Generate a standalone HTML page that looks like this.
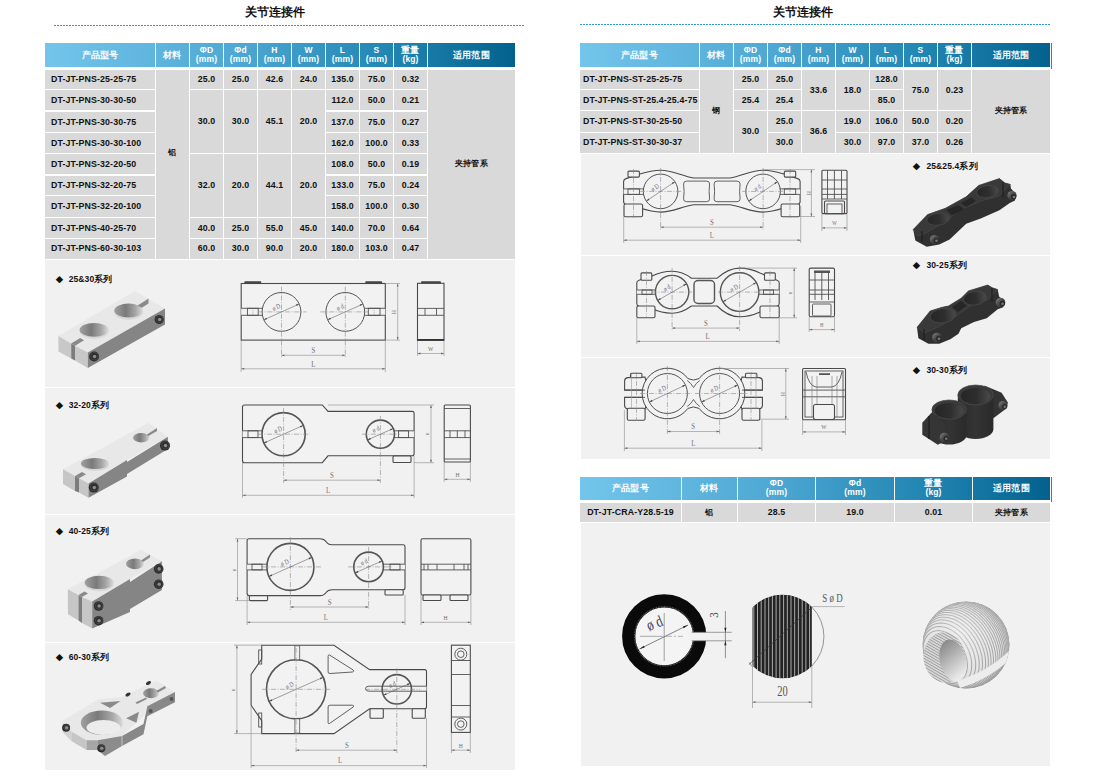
<!DOCTYPE html><html><head><meta charset="utf-8"><style>
html,body{margin:0;padding:0;background:#fff;width:1097px;height:782px;overflow:hidden;position:relative}
.t{position:absolute;font-family:"Liberation Sans",sans-serif;white-space:nowrap;letter-spacing:0.12px}
.hd{color:#fff;font-weight:bold;font-size:8.5px;text-align:center}
</style></head><body>
<div class="t" style="left:240px;top:4px;width:70px;height:16px;line-height:16px;font-size:12px;color:#111;font-weight:bold;text-align:center;">关节连接件</div>
<div class="t" style="left:768px;top:4px;width:70px;height:16px;line-height:16px;font-size:12px;color:#111;font-weight:bold;text-align:center;">关节连接件</div>
<svg style="position:absolute;left:0;top:0" width="1097" height="782"><line x1="54" y1="25.5" x2="525" y2="25.5" stroke="#2d9bd0" stroke-width="1" stroke-dasharray="2 1"/><line x1="580" y1="24.5" x2="1051" y2="24.5" stroke="#2d9bd0" stroke-width="1" stroke-dasharray="2 1"/></svg>
<div style="position:absolute;left:45px;top:43px;width:470px;height:24px;background:linear-gradient(90deg,#73c5eb 0%,#4fa9d4 40%,#1f83b0 75%,#04618d 100%)"></div>
<div style="position:absolute;left:155px;top:43px;width:1px;height:24px;background:#fff;"></div>
<div style="position:absolute;left:189px;top:43px;width:1px;height:24px;background:#fff;"></div>
<div style="position:absolute;left:223px;top:43px;width:1px;height:24px;background:#fff;"></div>
<div style="position:absolute;left:257px;top:43px;width:1px;height:24px;background:#fff;"></div>
<div style="position:absolute;left:291px;top:43px;width:1px;height:24px;background:#fff;"></div>
<div style="position:absolute;left:325px;top:43px;width:1px;height:24px;background:#fff;"></div>
<div style="position:absolute;left:359px;top:43px;width:1px;height:24px;background:#fff;"></div>
<div style="position:absolute;left:393px;top:43px;width:1px;height:24px;background:#fff;"></div>
<div style="position:absolute;left:427px;top:43px;width:1px;height:24px;background:#fff;"></div>
<div class="t" style="left:45px;top:43px;width:110px;height:24px;line-height:24px;font-size:8.5px;color:#fff;font-weight:bold;text-align:center;">产品型号</div>
<div class="t" style="left:156px;top:43px;width:33px;height:24px;line-height:24px;font-size:8.5px;color:#fff;font-weight:bold;text-align:center;">材料</div>
<div class="t hd" style="left:190px;top:43px;width:33px;height:24px;"><div style="position:absolute;left:0;right:0;top:3px;line-height:9px">ΦD</div><div style="position:absolute;left:0;right:0;top:12px;line-height:9px">(mm)</div></div>
<div class="t hd" style="left:224px;top:43px;width:33px;height:24px;"><div style="position:absolute;left:0;right:0;top:3px;line-height:9px">Φd</div><div style="position:absolute;left:0;right:0;top:12px;line-height:9px">(mm)</div></div>
<div class="t hd" style="left:258px;top:43px;width:33px;height:24px;"><div style="position:absolute;left:0;right:0;top:3px;line-height:9px">H</div><div style="position:absolute;left:0;right:0;top:12px;line-height:9px">(mm)</div></div>
<div class="t hd" style="left:292px;top:43px;width:33px;height:24px;"><div style="position:absolute;left:0;right:0;top:3px;line-height:9px">W</div><div style="position:absolute;left:0;right:0;top:12px;line-height:9px">(mm)</div></div>
<div class="t hd" style="left:326px;top:43px;width:33px;height:24px;"><div style="position:absolute;left:0;right:0;top:3px;line-height:9px">L</div><div style="position:absolute;left:0;right:0;top:12px;line-height:9px">(mm)</div></div>
<div class="t hd" style="left:360px;top:43px;width:33px;height:24px;"><div style="position:absolute;left:0;right:0;top:3px;line-height:9px">S</div><div style="position:absolute;left:0;right:0;top:12px;line-height:9px">(mm)</div></div>
<div class="t hd" style="left:394px;top:43px;width:33px;height:24px;"><div style="position:absolute;left:0;right:0;top:3px;line-height:9px">重量</div><div style="position:absolute;left:0;right:0;top:12px;line-height:9px">(kg)</div></div>
<div class="t" style="left:428px;top:43px;width:87px;height:24px;line-height:24px;font-size:8.5px;color:#fff;font-weight:bold;text-align:center;">适用范围</div>
<div style="position:absolute;left:45px;top:70px;width:110px;height:19.299999999999997px;background:#d9d9d9;"></div>
<div class="t" style="left:51px;top:70px;width:110px;height:19.299999999999997px;line-height:19.299999999999997px;font-size:8.8px;color:#111;font-weight:bold;text-align:left;">DT-JT-PNS-25-25-75</div>
<div style="position:absolute;left:45px;top:90.3px;width:110px;height:20.200000000000003px;background:#d9d9d9;"></div>
<div class="t" style="left:51px;top:90.3px;width:110px;height:20.200000000000003px;line-height:20.200000000000003px;font-size:8.8px;color:#111;font-weight:bold;text-align:left;">DT-JT-PNS-30-30-50</div>
<div style="position:absolute;left:45px;top:111.5px;width:110px;height:20.5px;background:#d9d9d9;"></div>
<div class="t" style="left:51px;top:111.5px;width:110px;height:20.5px;line-height:20.5px;font-size:8.8px;color:#111;font-weight:bold;text-align:left;">DT-JT-PNS-30-30-75</div>
<div style="position:absolute;left:45px;top:133px;width:110px;height:20.19999999999999px;background:#d9d9d9;"></div>
<div class="t" style="left:51px;top:133px;width:110px;height:20.19999999999999px;line-height:20.19999999999999px;font-size:8.8px;color:#111;font-weight:bold;text-align:left;">DT-JT-PNS-30-30-100</div>
<div style="position:absolute;left:45px;top:154.2px;width:110px;height:20.30000000000001px;background:#d9d9d9;"></div>
<div class="t" style="left:51px;top:154.2px;width:110px;height:20.30000000000001px;line-height:20.30000000000001px;font-size:8.8px;color:#111;font-weight:bold;text-align:left;">DT-JT-PNS-32-20-50</div>
<div style="position:absolute;left:45px;top:175.5px;width:110px;height:19.900000000000006px;background:#d9d9d9;"></div>
<div class="t" style="left:51px;top:175.5px;width:110px;height:19.900000000000006px;line-height:19.900000000000006px;font-size:8.8px;color:#111;font-weight:bold;text-align:left;">DT-JT-PNS-32-20-75</div>
<div style="position:absolute;left:45px;top:196.4px;width:110px;height:20.799999999999983px;background:#d9d9d9;"></div>
<div class="t" style="left:51px;top:196.4px;width:110px;height:20.799999999999983px;line-height:20.799999999999983px;font-size:8.8px;color:#111;font-weight:bold;text-align:left;">DT-JT-PNS-32-20-100</div>
<div style="position:absolute;left:45px;top:218.2px;width:110px;height:20.200000000000017px;background:#d9d9d9;"></div>
<div class="t" style="left:51px;top:218.2px;width:110px;height:20.200000000000017px;line-height:20.200000000000017px;font-size:8.8px;color:#111;font-weight:bold;text-align:left;">DT-JT-PNS-40-25-70</div>
<div style="position:absolute;left:45px;top:239.4px;width:110px;height:19.200000000000017px;background:#d9d9d9;"></div>
<div class="t" style="left:51px;top:239.4px;width:110px;height:19.200000000000017px;line-height:19.200000000000017px;font-size:8.8px;color:#111;font-weight:bold;text-align:left;">DT-JT-PNS-60-30-103</div>
<div style="position:absolute;left:156px;top:70px;width:33px;height:188.60000000000002px;background:#d9d9d9;"></div>
<div class="t" style="left:156px;top:59px;width:33px;height:188.60000000000002px;line-height:188.60000000000002px;font-size:8px;color:#111;font-weight:bold;text-align:center;">铝</div>
<div style="position:absolute;left:190px;top:70px;width:33px;height:19.299999999999997px;background:#d9d9d9;"></div>
<div class="t" style="left:190px;top:70px;width:33px;height:19.299999999999997px;line-height:19.299999999999997px;font-size:8.8px;color:#111;font-weight:bold;text-align:center;">25.0</div>
<div style="position:absolute;left:190px;top:90.3px;width:33px;height:62.89999999999999px;background:#d9d9d9;"></div>
<div class="t" style="left:190px;top:90.3px;width:33px;height:62.89999999999999px;line-height:62.89999999999999px;font-size:8.8px;color:#111;font-weight:bold;text-align:center;">30.0</div>
<div style="position:absolute;left:190px;top:154.2px;width:33px;height:63.0px;background:#d9d9d9;"></div>
<div class="t" style="left:190px;top:154.2px;width:33px;height:63.0px;line-height:63.0px;font-size:8.8px;color:#111;font-weight:bold;text-align:center;">32.0</div>
<div style="position:absolute;left:190px;top:218.2px;width:33px;height:20.200000000000017px;background:#d9d9d9;"></div>
<div class="t" style="left:190px;top:218.2px;width:33px;height:20.200000000000017px;line-height:20.200000000000017px;font-size:8.8px;color:#111;font-weight:bold;text-align:center;">40.0</div>
<div style="position:absolute;left:190px;top:239.4px;width:33px;height:19.200000000000017px;background:#d9d9d9;"></div>
<div class="t" style="left:190px;top:239.4px;width:33px;height:19.200000000000017px;line-height:19.200000000000017px;font-size:8.8px;color:#111;font-weight:bold;text-align:center;">60.0</div>
<div style="position:absolute;left:224px;top:70px;width:33px;height:19.299999999999997px;background:#d9d9d9;"></div>
<div class="t" style="left:224px;top:70px;width:33px;height:19.299999999999997px;line-height:19.299999999999997px;font-size:8.8px;color:#111;font-weight:bold;text-align:center;">25.0</div>
<div style="position:absolute;left:224px;top:90.3px;width:33px;height:62.89999999999999px;background:#d9d9d9;"></div>
<div class="t" style="left:224px;top:90.3px;width:33px;height:62.89999999999999px;line-height:62.89999999999999px;font-size:8.8px;color:#111;font-weight:bold;text-align:center;">30.0</div>
<div style="position:absolute;left:224px;top:154.2px;width:33px;height:63.0px;background:#d9d9d9;"></div>
<div class="t" style="left:224px;top:154.2px;width:33px;height:63.0px;line-height:63.0px;font-size:8.8px;color:#111;font-weight:bold;text-align:center;">20.0</div>
<div style="position:absolute;left:224px;top:218.2px;width:33px;height:20.200000000000017px;background:#d9d9d9;"></div>
<div class="t" style="left:224px;top:218.2px;width:33px;height:20.200000000000017px;line-height:20.200000000000017px;font-size:8.8px;color:#111;font-weight:bold;text-align:center;">25.0</div>
<div style="position:absolute;left:224px;top:239.4px;width:33px;height:19.200000000000017px;background:#d9d9d9;"></div>
<div class="t" style="left:224px;top:239.4px;width:33px;height:19.200000000000017px;line-height:19.200000000000017px;font-size:8.8px;color:#111;font-weight:bold;text-align:center;">30.0</div>
<div style="position:absolute;left:258px;top:70px;width:33px;height:19.299999999999997px;background:#d9d9d9;"></div>
<div class="t" style="left:258px;top:70px;width:33px;height:19.299999999999997px;line-height:19.299999999999997px;font-size:8.8px;color:#111;font-weight:bold;text-align:center;">42.6</div>
<div style="position:absolute;left:258px;top:90.3px;width:33px;height:62.89999999999999px;background:#d9d9d9;"></div>
<div class="t" style="left:258px;top:90.3px;width:33px;height:62.89999999999999px;line-height:62.89999999999999px;font-size:8.8px;color:#111;font-weight:bold;text-align:center;">45.1</div>
<div style="position:absolute;left:258px;top:154.2px;width:33px;height:63.0px;background:#d9d9d9;"></div>
<div class="t" style="left:258px;top:154.2px;width:33px;height:63.0px;line-height:63.0px;font-size:8.8px;color:#111;font-weight:bold;text-align:center;">44.1</div>
<div style="position:absolute;left:258px;top:218.2px;width:33px;height:20.200000000000017px;background:#d9d9d9;"></div>
<div class="t" style="left:258px;top:218.2px;width:33px;height:20.200000000000017px;line-height:20.200000000000017px;font-size:8.8px;color:#111;font-weight:bold;text-align:center;">55.0</div>
<div style="position:absolute;left:258px;top:239.4px;width:33px;height:19.200000000000017px;background:#d9d9d9;"></div>
<div class="t" style="left:258px;top:239.4px;width:33px;height:19.200000000000017px;line-height:19.200000000000017px;font-size:8.8px;color:#111;font-weight:bold;text-align:center;">90.0</div>
<div style="position:absolute;left:292px;top:70px;width:33px;height:19.299999999999997px;background:#d9d9d9;"></div>
<div class="t" style="left:292px;top:70px;width:33px;height:19.299999999999997px;line-height:19.299999999999997px;font-size:8.8px;color:#111;font-weight:bold;text-align:center;">24.0</div>
<div style="position:absolute;left:292px;top:90.3px;width:33px;height:62.89999999999999px;background:#d9d9d9;"></div>
<div class="t" style="left:292px;top:90.3px;width:33px;height:62.89999999999999px;line-height:62.89999999999999px;font-size:8.8px;color:#111;font-weight:bold;text-align:center;">20.0</div>
<div style="position:absolute;left:292px;top:154.2px;width:33px;height:63.0px;background:#d9d9d9;"></div>
<div class="t" style="left:292px;top:154.2px;width:33px;height:63.0px;line-height:63.0px;font-size:8.8px;color:#111;font-weight:bold;text-align:center;">20.0</div>
<div style="position:absolute;left:292px;top:218.2px;width:33px;height:20.200000000000017px;background:#d9d9d9;"></div>
<div class="t" style="left:292px;top:218.2px;width:33px;height:20.200000000000017px;line-height:20.200000000000017px;font-size:8.8px;color:#111;font-weight:bold;text-align:center;">45.0</div>
<div style="position:absolute;left:292px;top:239.4px;width:33px;height:19.200000000000017px;background:#d9d9d9;"></div>
<div class="t" style="left:292px;top:239.4px;width:33px;height:19.200000000000017px;line-height:19.200000000000017px;font-size:8.8px;color:#111;font-weight:bold;text-align:center;">20.0</div>
<div style="position:absolute;left:326px;top:70px;width:33px;height:19.299999999999997px;background:#d9d9d9;"></div>
<div class="t" style="left:326px;top:70px;width:33px;height:19.299999999999997px;line-height:19.299999999999997px;font-size:8.8px;color:#111;font-weight:bold;text-align:center;">135.0</div>
<div style="position:absolute;left:326px;top:90.3px;width:33px;height:20.200000000000003px;background:#d9d9d9;"></div>
<div class="t" style="left:326px;top:90.3px;width:33px;height:20.200000000000003px;line-height:20.200000000000003px;font-size:8.8px;color:#111;font-weight:bold;text-align:center;">112.0</div>
<div style="position:absolute;left:326px;top:111.5px;width:33px;height:20.5px;background:#d9d9d9;"></div>
<div class="t" style="left:326px;top:111.5px;width:33px;height:20.5px;line-height:20.5px;font-size:8.8px;color:#111;font-weight:bold;text-align:center;">137.0</div>
<div style="position:absolute;left:326px;top:133px;width:33px;height:20.19999999999999px;background:#d9d9d9;"></div>
<div class="t" style="left:326px;top:133px;width:33px;height:20.19999999999999px;line-height:20.19999999999999px;font-size:8.8px;color:#111;font-weight:bold;text-align:center;">162.0</div>
<div style="position:absolute;left:326px;top:154.2px;width:33px;height:20.30000000000001px;background:#d9d9d9;"></div>
<div class="t" style="left:326px;top:154.2px;width:33px;height:20.30000000000001px;line-height:20.30000000000001px;font-size:8.8px;color:#111;font-weight:bold;text-align:center;">108.0</div>
<div style="position:absolute;left:326px;top:175.5px;width:33px;height:19.900000000000006px;background:#d9d9d9;"></div>
<div class="t" style="left:326px;top:175.5px;width:33px;height:19.900000000000006px;line-height:19.900000000000006px;font-size:8.8px;color:#111;font-weight:bold;text-align:center;">133.0</div>
<div style="position:absolute;left:326px;top:196.4px;width:33px;height:20.799999999999983px;background:#d9d9d9;"></div>
<div class="t" style="left:326px;top:196.4px;width:33px;height:20.799999999999983px;line-height:20.799999999999983px;font-size:8.8px;color:#111;font-weight:bold;text-align:center;">158.0</div>
<div style="position:absolute;left:326px;top:218.2px;width:33px;height:20.200000000000017px;background:#d9d9d9;"></div>
<div class="t" style="left:326px;top:218.2px;width:33px;height:20.200000000000017px;line-height:20.200000000000017px;font-size:8.8px;color:#111;font-weight:bold;text-align:center;">140.0</div>
<div style="position:absolute;left:326px;top:239.4px;width:33px;height:19.200000000000017px;background:#d9d9d9;"></div>
<div class="t" style="left:326px;top:239.4px;width:33px;height:19.200000000000017px;line-height:19.200000000000017px;font-size:8.8px;color:#111;font-weight:bold;text-align:center;">180.0</div>
<div style="position:absolute;left:360px;top:70px;width:33px;height:19.299999999999997px;background:#d9d9d9;"></div>
<div class="t" style="left:360px;top:70px;width:33px;height:19.299999999999997px;line-height:19.299999999999997px;font-size:8.8px;color:#111;font-weight:bold;text-align:center;">75.0</div>
<div style="position:absolute;left:360px;top:90.3px;width:33px;height:20.200000000000003px;background:#d9d9d9;"></div>
<div class="t" style="left:360px;top:90.3px;width:33px;height:20.200000000000003px;line-height:20.200000000000003px;font-size:8.8px;color:#111;font-weight:bold;text-align:center;">50.0</div>
<div style="position:absolute;left:360px;top:111.5px;width:33px;height:20.5px;background:#d9d9d9;"></div>
<div class="t" style="left:360px;top:111.5px;width:33px;height:20.5px;line-height:20.5px;font-size:8.8px;color:#111;font-weight:bold;text-align:center;">75.0</div>
<div style="position:absolute;left:360px;top:133px;width:33px;height:20.19999999999999px;background:#d9d9d9;"></div>
<div class="t" style="left:360px;top:133px;width:33px;height:20.19999999999999px;line-height:20.19999999999999px;font-size:8.8px;color:#111;font-weight:bold;text-align:center;">100.0</div>
<div style="position:absolute;left:360px;top:154.2px;width:33px;height:20.30000000000001px;background:#d9d9d9;"></div>
<div class="t" style="left:360px;top:154.2px;width:33px;height:20.30000000000001px;line-height:20.30000000000001px;font-size:8.8px;color:#111;font-weight:bold;text-align:center;">50.0</div>
<div style="position:absolute;left:360px;top:175.5px;width:33px;height:19.900000000000006px;background:#d9d9d9;"></div>
<div class="t" style="left:360px;top:175.5px;width:33px;height:19.900000000000006px;line-height:19.900000000000006px;font-size:8.8px;color:#111;font-weight:bold;text-align:center;">75.0</div>
<div style="position:absolute;left:360px;top:196.4px;width:33px;height:20.799999999999983px;background:#d9d9d9;"></div>
<div class="t" style="left:360px;top:196.4px;width:33px;height:20.799999999999983px;line-height:20.799999999999983px;font-size:8.8px;color:#111;font-weight:bold;text-align:center;">100.0</div>
<div style="position:absolute;left:360px;top:218.2px;width:33px;height:20.200000000000017px;background:#d9d9d9;"></div>
<div class="t" style="left:360px;top:218.2px;width:33px;height:20.200000000000017px;line-height:20.200000000000017px;font-size:8.8px;color:#111;font-weight:bold;text-align:center;">70.0</div>
<div style="position:absolute;left:360px;top:239.4px;width:33px;height:19.200000000000017px;background:#d9d9d9;"></div>
<div class="t" style="left:360px;top:239.4px;width:33px;height:19.200000000000017px;line-height:19.200000000000017px;font-size:8.8px;color:#111;font-weight:bold;text-align:center;">103.0</div>
<div style="position:absolute;left:394px;top:70px;width:33px;height:19.299999999999997px;background:#d9d9d9;"></div>
<div class="t" style="left:394px;top:70px;width:33px;height:19.299999999999997px;line-height:19.299999999999997px;font-size:8.8px;color:#111;font-weight:bold;text-align:center;">0.32</div>
<div style="position:absolute;left:394px;top:90.3px;width:33px;height:20.200000000000003px;background:#d9d9d9;"></div>
<div class="t" style="left:394px;top:90.3px;width:33px;height:20.200000000000003px;line-height:20.200000000000003px;font-size:8.8px;color:#111;font-weight:bold;text-align:center;">0.21</div>
<div style="position:absolute;left:394px;top:111.5px;width:33px;height:20.5px;background:#d9d9d9;"></div>
<div class="t" style="left:394px;top:111.5px;width:33px;height:20.5px;line-height:20.5px;font-size:8.8px;color:#111;font-weight:bold;text-align:center;">0.27</div>
<div style="position:absolute;left:394px;top:133px;width:33px;height:20.19999999999999px;background:#d9d9d9;"></div>
<div class="t" style="left:394px;top:133px;width:33px;height:20.19999999999999px;line-height:20.19999999999999px;font-size:8.8px;color:#111;font-weight:bold;text-align:center;">0.33</div>
<div style="position:absolute;left:394px;top:154.2px;width:33px;height:20.30000000000001px;background:#d9d9d9;"></div>
<div class="t" style="left:394px;top:154.2px;width:33px;height:20.30000000000001px;line-height:20.30000000000001px;font-size:8.8px;color:#111;font-weight:bold;text-align:center;">0.19</div>
<div style="position:absolute;left:394px;top:175.5px;width:33px;height:19.900000000000006px;background:#d9d9d9;"></div>
<div class="t" style="left:394px;top:175.5px;width:33px;height:19.900000000000006px;line-height:19.900000000000006px;font-size:8.8px;color:#111;font-weight:bold;text-align:center;">0.24</div>
<div style="position:absolute;left:394px;top:196.4px;width:33px;height:20.799999999999983px;background:#d9d9d9;"></div>
<div class="t" style="left:394px;top:196.4px;width:33px;height:20.799999999999983px;line-height:20.799999999999983px;font-size:8.8px;color:#111;font-weight:bold;text-align:center;">0.30</div>
<div style="position:absolute;left:394px;top:218.2px;width:33px;height:20.200000000000017px;background:#d9d9d9;"></div>
<div class="t" style="left:394px;top:218.2px;width:33px;height:20.200000000000017px;line-height:20.200000000000017px;font-size:8.8px;color:#111;font-weight:bold;text-align:center;">0.64</div>
<div style="position:absolute;left:394px;top:239.4px;width:33px;height:19.200000000000017px;background:#d9d9d9;"></div>
<div class="t" style="left:394px;top:239.4px;width:33px;height:19.200000000000017px;line-height:19.200000000000017px;font-size:8.8px;color:#111;font-weight:bold;text-align:center;">0.47</div>
<div style="position:absolute;left:428px;top:70px;width:87px;height:188.60000000000002px;background:#d9d9d9;"></div>
<div class="t" style="left:428px;top:70px;width:87px;height:188.60000000000002px;line-height:188.60000000000002px;font-size:8px;color:#111;font-weight:bold;text-align:center;">夹持管系</div>
<div style="position:absolute;left:580px;top:43px;width:470px;height:24px;background:linear-gradient(90deg,#73c5eb 0%,#4fa9d4 40%,#1f83b0 75%,#04618d 100%)"></div>
<div style="position:absolute;left:699px;top:43px;width:1px;height:24px;background:#fff;"></div>
<div style="position:absolute;left:733px;top:43px;width:1px;height:24px;background:#fff;"></div>
<div style="position:absolute;left:767px;top:43px;width:1px;height:24px;background:#fff;"></div>
<div style="position:absolute;left:801px;top:43px;width:1px;height:24px;background:#fff;"></div>
<div style="position:absolute;left:835px;top:43px;width:1px;height:24px;background:#fff;"></div>
<div style="position:absolute;left:869px;top:43px;width:1px;height:24px;background:#fff;"></div>
<div style="position:absolute;left:903px;top:43px;width:1px;height:24px;background:#fff;"></div>
<div style="position:absolute;left:937px;top:43px;width:1px;height:24px;background:#fff;"></div>
<div style="position:absolute;left:971px;top:43px;width:1px;height:24px;background:#fff;"></div>
<div class="t" style="left:580px;top:43px;width:119px;height:24px;line-height:24px;font-size:8.5px;color:#fff;font-weight:bold;text-align:center;">产品型号</div>
<div class="t" style="left:700px;top:43px;width:33px;height:24px;line-height:24px;font-size:8.5px;color:#fff;font-weight:bold;text-align:center;">材料</div>
<div class="t hd" style="left:734px;top:43px;width:33px;height:24px;"><div style="position:absolute;left:0;right:0;top:3px;line-height:9px">ΦD</div><div style="position:absolute;left:0;right:0;top:12px;line-height:9px">(mm)</div></div>
<div class="t hd" style="left:768px;top:43px;width:33px;height:24px;"><div style="position:absolute;left:0;right:0;top:3px;line-height:9px">Φd</div><div style="position:absolute;left:0;right:0;top:12px;line-height:9px">(mm)</div></div>
<div class="t hd" style="left:802px;top:43px;width:33px;height:24px;"><div style="position:absolute;left:0;right:0;top:3px;line-height:9px">H</div><div style="position:absolute;left:0;right:0;top:12px;line-height:9px">(mm)</div></div>
<div class="t hd" style="left:836px;top:43px;width:33px;height:24px;"><div style="position:absolute;left:0;right:0;top:3px;line-height:9px">W</div><div style="position:absolute;left:0;right:0;top:12px;line-height:9px">(mm)</div></div>
<div class="t hd" style="left:870px;top:43px;width:33px;height:24px;"><div style="position:absolute;left:0;right:0;top:3px;line-height:9px">L</div><div style="position:absolute;left:0;right:0;top:12px;line-height:9px">(mm)</div></div>
<div class="t hd" style="left:904px;top:43px;width:33px;height:24px;"><div style="position:absolute;left:0;right:0;top:3px;line-height:9px">S</div><div style="position:absolute;left:0;right:0;top:12px;line-height:9px">(mm)</div></div>
<div class="t hd" style="left:938px;top:43px;width:33px;height:24px;"><div style="position:absolute;left:0;right:0;top:3px;line-height:9px">重量</div><div style="position:absolute;left:0;right:0;top:12px;line-height:9px">(kg)</div></div>
<div class="t" style="left:972px;top:43px;width:78px;height:24px;line-height:24px;font-size:8.5px;color:#fff;font-weight:bold;text-align:center;">适用范围</div>
<div style="position:absolute;left:1050.5px;top:43px;width:1.2px;height:26px;background:#2a86b5;"></div>
<div style="position:absolute;left:580px;top:70px;width:119px;height:19.099999999999994px;background:#d9d9d9;"></div>
<div class="t" style="left:583px;top:70px;width:120px;height:19.099999999999994px;line-height:19.099999999999994px;font-size:8.8px;color:#111;font-weight:bold;text-align:left;">DT-JT-PNS-ST-25-25-75</div>
<div style="position:absolute;left:580px;top:90.1px;width:119px;height:20.10000000000001px;background:#d9d9d9;"></div>
<div class="t" style="left:583px;top:90.1px;width:120px;height:20.10000000000001px;line-height:20.10000000000001px;font-size:8.8px;color:#111;font-weight:bold;text-align:left;">DT-JT-PNS-ST-25.4-25.4-75</div>
<div style="position:absolute;left:580px;top:111.2px;width:119px;height:20.799999999999997px;background:#d9d9d9;"></div>
<div class="t" style="left:583px;top:111.2px;width:120px;height:20.799999999999997px;line-height:20.799999999999997px;font-size:8.8px;color:#111;font-weight:bold;text-align:left;">DT-JT-PNS-ST-30-25-50</div>
<div style="position:absolute;left:580px;top:133px;width:119px;height:19.69999999999999px;background:#d9d9d9;"></div>
<div class="t" style="left:583px;top:133px;width:120px;height:19.69999999999999px;line-height:19.69999999999999px;font-size:8.8px;color:#111;font-weight:bold;text-align:left;">DT-JT-PNS-ST-30-30-37</div>
<div style="position:absolute;left:700px;top:70px;width:33px;height:82.69999999999999px;background:#d9d9d9;"></div>
<div class="t" style="left:700px;top:70px;width:33px;height:82.69999999999999px;line-height:82.69999999999999px;font-size:8px;color:#111;font-weight:bold;text-align:center;">钢</div>
<div style="position:absolute;left:734px;top:70px;width:33px;height:19.099999999999994px;background:#d9d9d9;"></div>
<div class="t" style="left:734px;top:70px;width:33px;height:19.099999999999994px;line-height:19.099999999999994px;font-size:8.8px;color:#111;font-weight:bold;text-align:center;">25.0</div>
<div style="position:absolute;left:734px;top:90.1px;width:33px;height:20.10000000000001px;background:#d9d9d9;"></div>
<div class="t" style="left:734px;top:90.1px;width:33px;height:20.10000000000001px;line-height:20.10000000000001px;font-size:8.8px;color:#111;font-weight:bold;text-align:center;">25.4</div>
<div style="position:absolute;left:734px;top:111.2px;width:33px;height:41.499999999999986px;background:#d9d9d9;"></div>
<div class="t" style="left:734px;top:111.2px;width:33px;height:41.499999999999986px;line-height:41.499999999999986px;font-size:8.8px;color:#111;font-weight:bold;text-align:center;">30.0</div>
<div style="position:absolute;left:768px;top:70px;width:33px;height:19.099999999999994px;background:#d9d9d9;"></div>
<div class="t" style="left:768px;top:70px;width:33px;height:19.099999999999994px;line-height:19.099999999999994px;font-size:8.8px;color:#111;font-weight:bold;text-align:center;">25.0</div>
<div style="position:absolute;left:768px;top:90.1px;width:33px;height:20.10000000000001px;background:#d9d9d9;"></div>
<div class="t" style="left:768px;top:90.1px;width:33px;height:20.10000000000001px;line-height:20.10000000000001px;font-size:8.8px;color:#111;font-weight:bold;text-align:center;">25.4</div>
<div style="position:absolute;left:768px;top:111.2px;width:33px;height:20.799999999999997px;background:#d9d9d9;"></div>
<div class="t" style="left:768px;top:111.2px;width:33px;height:20.799999999999997px;line-height:20.799999999999997px;font-size:8.8px;color:#111;font-weight:bold;text-align:center;">25.0</div>
<div style="position:absolute;left:768px;top:133px;width:33px;height:19.69999999999999px;background:#d9d9d9;"></div>
<div class="t" style="left:768px;top:133px;width:33px;height:19.69999999999999px;line-height:19.69999999999999px;font-size:8.8px;color:#111;font-weight:bold;text-align:center;">30.0</div>
<div style="position:absolute;left:802px;top:70px;width:33px;height:40.2px;background:#d9d9d9;"></div>
<div class="t" style="left:802px;top:70px;width:33px;height:40.2px;line-height:40.2px;font-size:8.8px;color:#111;font-weight:bold;text-align:center;">33.6</div>
<div style="position:absolute;left:802px;top:111.2px;width:33px;height:41.499999999999986px;background:#d9d9d9;"></div>
<div class="t" style="left:802px;top:111.2px;width:33px;height:41.499999999999986px;line-height:41.499999999999986px;font-size:8.8px;color:#111;font-weight:bold;text-align:center;">36.6</div>
<div style="position:absolute;left:836px;top:70px;width:33px;height:40.2px;background:#d9d9d9;"></div>
<div class="t" style="left:836px;top:70px;width:33px;height:40.2px;line-height:40.2px;font-size:8.8px;color:#111;font-weight:bold;text-align:center;">18.0</div>
<div style="position:absolute;left:836px;top:111.2px;width:33px;height:20.799999999999997px;background:#d9d9d9;"></div>
<div class="t" style="left:836px;top:111.2px;width:33px;height:20.799999999999997px;line-height:20.799999999999997px;font-size:8.8px;color:#111;font-weight:bold;text-align:center;">19.0</div>
<div style="position:absolute;left:836px;top:133px;width:33px;height:19.69999999999999px;background:#d9d9d9;"></div>
<div class="t" style="left:836px;top:133px;width:33px;height:19.69999999999999px;line-height:19.69999999999999px;font-size:8.8px;color:#111;font-weight:bold;text-align:center;">30.0</div>
<div style="position:absolute;left:870px;top:70px;width:33px;height:19.099999999999994px;background:#d9d9d9;"></div>
<div class="t" style="left:870px;top:70px;width:33px;height:19.099999999999994px;line-height:19.099999999999994px;font-size:8.8px;color:#111;font-weight:bold;text-align:center;">128.0</div>
<div style="position:absolute;left:870px;top:90.1px;width:33px;height:20.10000000000001px;background:#d9d9d9;"></div>
<div class="t" style="left:870px;top:90.1px;width:33px;height:20.10000000000001px;line-height:20.10000000000001px;font-size:8.8px;color:#111;font-weight:bold;text-align:center;">85.0</div>
<div style="position:absolute;left:870px;top:111.2px;width:33px;height:20.799999999999997px;background:#d9d9d9;"></div>
<div class="t" style="left:870px;top:111.2px;width:33px;height:20.799999999999997px;line-height:20.799999999999997px;font-size:8.8px;color:#111;font-weight:bold;text-align:center;">106.0</div>
<div style="position:absolute;left:870px;top:133px;width:33px;height:19.69999999999999px;background:#d9d9d9;"></div>
<div class="t" style="left:870px;top:133px;width:33px;height:19.69999999999999px;line-height:19.69999999999999px;font-size:8.8px;color:#111;font-weight:bold;text-align:center;">97.0</div>
<div style="position:absolute;left:904px;top:70px;width:33px;height:40.2px;background:#d9d9d9;"></div>
<div class="t" style="left:904px;top:70px;width:33px;height:40.2px;line-height:40.2px;font-size:8.8px;color:#111;font-weight:bold;text-align:center;">75.0</div>
<div style="position:absolute;left:904px;top:111.2px;width:33px;height:20.799999999999997px;background:#d9d9d9;"></div>
<div class="t" style="left:904px;top:111.2px;width:33px;height:20.799999999999997px;line-height:20.799999999999997px;font-size:8.8px;color:#111;font-weight:bold;text-align:center;">50.0</div>
<div style="position:absolute;left:904px;top:133px;width:33px;height:19.69999999999999px;background:#d9d9d9;"></div>
<div class="t" style="left:904px;top:133px;width:33px;height:19.69999999999999px;line-height:19.69999999999999px;font-size:8.8px;color:#111;font-weight:bold;text-align:center;">37.0</div>
<div style="position:absolute;left:938px;top:70px;width:33px;height:40.2px;background:#d9d9d9;"></div>
<div class="t" style="left:938px;top:70px;width:33px;height:40.2px;line-height:40.2px;font-size:8.8px;color:#111;font-weight:bold;text-align:center;">0.23</div>
<div style="position:absolute;left:938px;top:111.2px;width:33px;height:20.799999999999997px;background:#d9d9d9;"></div>
<div class="t" style="left:938px;top:111.2px;width:33px;height:20.799999999999997px;line-height:20.799999999999997px;font-size:8.8px;color:#111;font-weight:bold;text-align:center;">0.20</div>
<div style="position:absolute;left:938px;top:133px;width:33px;height:19.69999999999999px;background:#d9d9d9;"></div>
<div class="t" style="left:938px;top:133px;width:33px;height:19.69999999999999px;line-height:19.69999999999999px;font-size:8.8px;color:#111;font-weight:bold;text-align:center;">0.26</div>
<div style="position:absolute;left:972px;top:70px;width:78px;height:82.69999999999999px;background:#d9d9d9;"></div>
<div class="t" style="left:972px;top:70px;width:78px;height:82.69999999999999px;line-height:82.69999999999999px;font-size:8px;color:#111;font-weight:bold;text-align:center;">夹持管系</div>
<div style="position:absolute;left:580px;top:477px;width:470px;height:23px;background:linear-gradient(90deg,#73c5eb 0%,#4fa9d4 40%,#1f83b0 75%,#04618d 100%)"></div>
<div style="position:absolute;left:681px;top:477px;width:1px;height:23px;background:#fff;"></div>
<div style="position:absolute;left:737px;top:477px;width:1px;height:23px;background:#fff;"></div>
<div style="position:absolute;left:815px;top:477px;width:1px;height:23px;background:#fff;"></div>
<div style="position:absolute;left:894px;top:477px;width:1px;height:23px;background:#fff;"></div>
<div style="position:absolute;left:972px;top:477px;width:1px;height:23px;background:#fff;"></div>
<div class="t" style="left:580px;top:477px;width:101px;height:23px;line-height:23px;font-size:8.5px;color:#fff;font-weight:bold;text-align:center;">产品型号</div>
<div class="t" style="left:682px;top:477px;width:55px;height:23px;line-height:23px;font-size:8.5px;color:#fff;font-weight:bold;text-align:center;">材料</div>
<div class="t hd" style="left:738px;top:477px;width:77px;height:23px;"><div style="position:absolute;left:0;right:0;top:1.8px;line-height:9px">ΦD</div><div style="position:absolute;left:0;right:0;top:11px;line-height:9px">(mm)</div></div>
<div class="t hd" style="left:816px;top:477px;width:78px;height:23px;"><div style="position:absolute;left:0;right:0;top:1.8px;line-height:9px">Φd</div><div style="position:absolute;left:0;right:0;top:11px;line-height:9px">(mm)</div></div>
<div class="t hd" style="left:895px;top:477px;width:77px;height:23px;"><div style="position:absolute;left:0;right:0;top:1.8px;line-height:9px">重量</div><div style="position:absolute;left:0;right:0;top:11px;line-height:9px">(kg)</div></div>
<div class="t" style="left:973px;top:477px;width:77px;height:23px;line-height:23px;font-size:8.5px;color:#fff;font-weight:bold;text-align:center;">适用范围</div>
<div style="position:absolute;left:1050.5px;top:477px;width:1.2px;height:25px;background:#2a86b5;"></div>
<div style="position:absolute;left:580px;top:503px;width:101px;height:19px;background:#d9d9d9;"></div>
<div class="t" style="left:580px;top:503px;width:101px;height:19px;line-height:19px;font-size:8.8px;color:#111;font-weight:bold;text-align:center;">DT-JT-CRA-Y28.5-19</div>
<div style="position:absolute;left:682px;top:503px;width:55px;height:19px;background:#d9d9d9;"></div>
<div class="t" style="left:682px;top:503px;width:55px;height:19px;line-height:19px;font-size:8px;color:#111;font-weight:bold;text-align:center;">铝</div>
<div style="position:absolute;left:738px;top:503px;width:77px;height:19px;background:#d9d9d9;"></div>
<div class="t" style="left:738px;top:503px;width:77px;height:19px;line-height:19px;font-size:8.8px;color:#111;font-weight:bold;text-align:center;">28.5</div>
<div style="position:absolute;left:816px;top:503px;width:78px;height:19px;background:#d9d9d9;"></div>
<div class="t" style="left:816px;top:503px;width:78px;height:19px;line-height:19px;font-size:8.8px;color:#111;font-weight:bold;text-align:center;">19.0</div>
<div style="position:absolute;left:895px;top:503px;width:77px;height:19px;background:#d9d9d9;"></div>
<div class="t" style="left:895px;top:503px;width:77px;height:19px;line-height:19px;font-size:8.8px;color:#111;font-weight:bold;text-align:center;">0.01</div>
<div style="position:absolute;left:973px;top:503px;width:77px;height:19px;background:#d9d9d9;"></div>
<div class="t" style="left:973px;top:503px;width:77px;height:19px;line-height:19px;font-size:8px;color:#111;font-weight:bold;text-align:center;">夹持管系</div>
<div style="position:absolute;left:45px;top:260px;width:470px;height:127px;background:#f1f1f1;"></div>
<div style="position:absolute;left:45px;top:388px;width:470px;height:126px;background:#f1f1f1;"></div>
<div style="position:absolute;left:45px;top:515px;width:470px;height:127px;background:#f1f1f1;"></div>
<div style="position:absolute;left:45px;top:643px;width:470px;height:127px;background:#f1f1f1;"></div>
<div style="position:absolute;left:581px;top:154px;width:469px;height:101px;background:#f1f1f1;"></div>
<div style="position:absolute;left:581px;top:256px;width:469px;height:101px;background:#f1f1f1;"></div>
<div style="position:absolute;left:581px;top:358px;width:469px;height:101px;background:#f1f1f1;"></div>
<div style="position:absolute;left:581px;top:523px;width:469px;height:243px;background:#f1f1f1;"></div>
<div class="t" style="left:55.5px;top:274px;font-size:8.5px;font-weight:bold;color:#111;line-height:10px"><span style="font-size:8.5px;margin-right:6px">◆</span>25&amp;30系列</div>
<div class="t" style="left:55.5px;top:400px;font-size:8.5px;font-weight:bold;color:#111;line-height:10px"><span style="font-size:8.5px;margin-right:6px">◆</span>32-20系列</div>
<div class="t" style="left:55.5px;top:526px;font-size:8.5px;font-weight:bold;color:#111;line-height:10px"><span style="font-size:8.5px;margin-right:6px">◆</span>40-25系列</div>
<div class="t" style="left:55.5px;top:652px;font-size:8.5px;font-weight:bold;color:#111;line-height:10px"><span style="font-size:8.5px;margin-right:6px">◆</span>60-30系列</div>
<div class="t" style="left:913.3px;top:161px;font-size:8.5px;font-weight:bold;color:#111;line-height:10px"><span style="font-size:8.5px;margin-right:6px">◆</span>25&amp;25.4系列</div>
<div class="t" style="left:913.3px;top:260px;font-size:8.5px;font-weight:bold;color:#111;line-height:10px"><span style="font-size:8.5px;margin-right:6px">◆</span>30-25系列</div>
<div class="t" style="left:913.3px;top:365px;font-size:8.5px;font-weight:bold;color:#111;line-height:10px"><span style="font-size:8.5px;margin-right:6px">◆</span>30-30系列</div>
<svg style="position:absolute;left:0;top:0" width="1097" height="782">
<defs>
<linearGradient id="holeg" x1="0" x2="1" y1="0" y2="0"><stop offset="0" stop-color="#a0a0a0"/><stop offset="0.4" stop-color="#7a7a7a"/><stop offset="0.75" stop-color="#a8a8a8"/><stop offset="1" stop-color="#dcdcdc"/></linearGradient>
<linearGradient id="blkh" x1="0" x2="1" y1="0" y2="0"><stop offset="0" stop-color="#262626"/><stop offset="0.55" stop-color="#2e2e2e"/><stop offset="1" stop-color="#4a4a4a"/></linearGradient>
<linearGradient id="scr" x1="0" x2="1" y1="0" y2="1"><stop offset="0" stop-color="#8a8a8a"/><stop offset="0.45" stop-color="#4a4a4a"/><stop offset="1" stop-color="#2a2a2a"/></linearGradient>
<linearGradient id="cyl" x1="0" x2="1" y1="0" y2="0"><stop offset="0" stop-color="#2a2a2a"/><stop offset="0.5" stop-color="#343434"/><stop offset="1" stop-color="#2a2a2a"/></linearGradient>
<linearGradient id="holeb" x1="0" x2="0.3" y1="0" y2="1"><stop offset="0" stop-color="#7c7c7c"/><stop offset="1" stop-color="#eaeaea"/></linearGradient>
<linearGradient id="knurlg" x1="0" x2="1" y1="0" y2="0"><stop offset="0" stop-color="#111"/><stop offset="0.5" stop-color="#333"/><stop offset="1" stop-color="#111"/></linearGradient>
<pattern id="stripes" width="2.4" height="2.4" patternUnits="userSpaceOnUse" patternTransform="rotate(38)"><rect width="2.4" height="2.4" fill="#dadada"/><rect width="2.4" height="0.9" fill="#9c9c9c"/></pattern>
<clipPath id="kclip"><rect x="752.5" y="590" width="59.3" height="95"/></clipPath>
<radialGradient id="ballsh" cx="0.45" cy="0.35" r="0.7"><stop offset="0" stop-color="#fff" stop-opacity="0.45"/><stop offset="0.6" stop-color="#fff" stop-opacity="0.1"/><stop offset="1" stop-color="#777" stop-opacity="0.35"/></radialGradient>
<clipPath id="kcirc"><circle cx="782.4" cy="636.5" r="41.9"/></clipPath>
<clipPath id="ballclip"><circle cx="966" cy="645" r="43.5"/></clipPath>
</defs>
<polygon points="58.4,336.0 135.0,291.1 165.0,308.6 87.8,352.6" fill="#e8e8e8"/>
<polygon points="58.4,336.0 71.2,343.5 71.2,358.4 58.4,351.4" fill="#c8c8c8"/>
<polygon points="75.0,345.7 87.8,352.6 87.8,368.0 75.0,360.4" fill="#c8c8c8"/>
<polygon points="87.8,352.6 165.0,308.6 165.0,324.6 87.8,368.0" fill="#858585"/>
<polygon points="71.2,343.5 75.0,345.7 75.0,360.4 71.2,358.4" fill="#7c7c7c"/>
<polygon points="71.2,343.5 75.0,345.7 84.0,340.2 80.2,338.0" fill="#8a8a8a"/>
<ellipse cx="94.1" cy="331.0" rx="14.7" ry="7.9" fill="#d8d8d8"/>
<ellipse cx="94.1" cy="329.8" rx="14.5" ry="6.9" fill="url(#holeg)"/>
<ellipse cx="128.6" cy="311.8" rx="14.5" ry="8.0" fill="#d8d8d8"/>
<ellipse cx="128.6" cy="310.6" rx="14.3" ry="7.0" fill="url(#holeg)"/>
<polygon points="137.5,305.5 141.8,307.8 148.5,303.6 148.5,298.6 144.0,301.5" fill="#8a8a8a"/>
<circle cx="94.1" cy="356.5" r="5.0" fill="#2b2b2b"/>
<circle cx="94.5" cy="356.1" r="3.8" fill="none" stroke="#555" stroke-width="0.6"/>
<circle cx="94.6" cy="356.5" r="1.8" fill="#8a8a8a"/>
<circle cx="159.2" cy="319.5" r="4.6" fill="#2b2b2b"/>
<circle cx="159.6" cy="319.1" r="3.4" fill="none" stroke="#555" stroke-width="0.6"/>
<circle cx="159.7" cy="319.5" r="1.8" fill="#8a8a8a"/>
<rect x="241.2" y="283.5" width="144.1" height="56.6" rx="0" stroke="#4a4a4a" stroke-width="1.1" fill="#f2f2f2"/>
<rect x="244.3" y="281.3" width="17.0" height="2.2" rx="1" fill="#444"/>
<rect x="365.2" y="281.3" width="17.0" height="2.2" rx="1" fill="#444"/>
<rect x="241.2" y="308.3" width="21.8" height="7.0" rx="0" fill="#f2f2f2" stroke="none"/>
<line x1="241.2" y1="308.3" x2="263.0" y2="308.3" stroke="#505050" stroke-width="0.9" fill="none"/>
<line x1="241.2" y1="315.3" x2="263.0" y2="315.3" stroke="#505050" stroke-width="0.9" fill="none"/>
<rect x="364.0" y="308.3" width="21.3" height="7.0" rx="0" fill="#f2f2f2" stroke="none"/>
<line x1="364.0" y1="308.3" x2="385.3" y2="308.3" stroke="#505050" stroke-width="0.9" fill="none"/>
<line x1="364.0" y1="315.3" x2="385.3" y2="315.3" stroke="#505050" stroke-width="0.9" fill="none"/>
<rect x="247.4" y="308.3" width="10.8" height="7.0" rx="0" stroke="#505050" stroke-width="0.9" fill="none"/>
<line x1="252.8" y1="308.3" x2="252.8" y2="315.3" stroke="#777" stroke-width="0.5" stroke-dasharray="1 1"/>
<rect x="368.3" y="308.3" width="11.7" height="7.0" rx="0" stroke="#505050" stroke-width="0.9" fill="none"/>
<line x1="374.1" y1="308.3" x2="374.1" y2="315.3" stroke="#777" stroke-width="0.5" stroke-dasharray="1 1"/>
<circle cx="281.5" cy="311.9" r="19.4" stroke="#555" stroke-width="1" fill="none"/>
<circle cx="345.3" cy="311.9" r="19.4" stroke="#555" stroke-width="1" fill="none"/>
<line x1="258.2" y1="311.9" x2="306.3" y2="311.9" stroke="#888" stroke-width="0.6" stroke-dasharray="5 1.5 1 1.5" fill="none"/>
<line x1="320.2" y1="311.9" x2="368.3" y2="311.9" stroke="#888" stroke-width="0.6" stroke-dasharray="5 1.5 1 1.5" fill="none"/>
<line x1="281.5" y1="286.6" x2="281.5" y2="358.0" stroke="#888" stroke-width="0.6" stroke-dasharray="5 1.5 1 1.5" fill="none"/>
<line x1="345.3" y1="286.6" x2="345.3" y2="358.0" stroke="#888" stroke-width="0.6" stroke-dasharray="5 1.5 1 1.5" fill="none"/>
<line x1="263.8" y1="319.8" x2="299.2" y2="304.0" stroke="#555" stroke-width="0.55"/>
<path d="M299.2,304.0 L296.7,306.1 L295.9,304.5 Z" fill="#444"/>
<path d="M263.8,319.8 L267.1,319.3 L266.3,317.7 Z" fill="#444"/>
<text x="0.0" y="0.0" font-family="Liberation Serif" font-size="7" fill="#6a6a80" text-anchor="middle" transform="translate(277.2 309.4) rotate(-24) scale(0.8 1)">ø D</text>
<line x1="327.6" y1="319.8" x2="363.0" y2="304.0" stroke="#555" stroke-width="0.55"/>
<path d="M363.0,304.0 L360.5,306.1 L359.7,304.5 Z" fill="#444"/>
<path d="M327.6,319.8 L330.9,319.3 L330.1,317.7 Z" fill="#444"/>
<text x="0.0" y="0.0" font-family="Liberation Serif" font-size="7" fill="#6a6a80" text-anchor="middle" transform="translate(341.0 309.4) rotate(-24) scale(0.8 1)">ø d</text>
<line x1="385.3" y1="283.5" x2="400.0" y2="283.5" stroke="#8c8c8c" stroke-width="0.6" fill="none"/>
<line x1="385.3" y1="340.1" x2="400.0" y2="340.1" stroke="#8c8c8c" stroke-width="0.6" fill="none"/>
<line x1="397.7" y1="283.5" x2="397.7" y2="340.1" stroke="#8c8c8c" stroke-width="0.6" fill="none"/>
<path d="M397.7,283.5 l-0.9,3 h1.8 z M397.7,340.1 l-0.9,-3 h1.8 z" fill="#666"/>
<text x="0.0" y="0.0" font-family="Liberation Serif" font-size="7" fill="#707070" text-anchor="middle" transform="translate(391.5 312.0) rotate(90) scale(0.8 1)">H</text>
<line x1="281.5" y1="355.3" x2="345.3" y2="355.3" stroke="#8c8c8c" stroke-width="0.6" fill="none"/>
<path d="M281.5,355.3 l3,-0.9 v1.8 z M345.3,355.3 l-3,-0.9 v1.8 z" fill="#666"/>
<text x="0.0" y="0.0" font-family="Liberation Serif" font-size="8.5" fill="#707070" text-anchor="middle" transform="translate(313.3 353.0) rotate(0) scale(0.8 1)">S</text>
<line x1="241.2" y1="340.0" x2="241.2" y2="372.0" stroke="#8c8c8c" stroke-width="0.6" fill="none"/>
<line x1="385.3" y1="340.0" x2="385.3" y2="372.0" stroke="#8c8c8c" stroke-width="0.6" fill="none"/>
<line x1="241.2" y1="368.8" x2="385.3" y2="368.8" stroke="#8c8c8c" stroke-width="0.6" fill="none"/>
<path d="M241.2,368.8 l3,-0.9 v1.8 z M385.3,368.8 l-3,-0.9 v1.8 z" fill="#666"/>
<text x="0.0" y="0.0" font-family="Liberation Serif" font-size="8.5" fill="#707070" text-anchor="middle" transform="translate(313.3 366.5) rotate(0) scale(0.8 1)">L</text>
<rect x="417.5" y="283.3" width="26.5" height="57.1" rx="0" stroke="#4a4a4a" stroke-width="1.1" fill="#f2f2f2"/>
<rect x="421.0" y="281.3" width="20.0" height="2.2" rx="1" fill="#444"/>
<line x1="417.5" y1="308.4" x2="444.0" y2="308.4" stroke="#505050" stroke-width="0.9" fill="none"/>
<line x1="417.5" y1="315.3" x2="444.0" y2="315.3" stroke="#505050" stroke-width="0.9" fill="none"/>
<line x1="425.0" y1="308.4" x2="425.0" y2="315.3" stroke="#505050" stroke-width="0.9" fill="none"/>
<line x1="436.5" y1="308.4" x2="436.5" y2="315.3" stroke="#505050" stroke-width="0.9" fill="none"/>
<line x1="417.5" y1="339.8" x2="444.0" y2="339.8" stroke="#333" stroke-width="1.6"/>
<line x1="417.5" y1="341.0" x2="417.5" y2="356.0" stroke="#8c8c8c" stroke-width="0.6" fill="none"/>
<line x1="444.0" y1="341.0" x2="444.0" y2="356.0" stroke="#8c8c8c" stroke-width="0.6" fill="none"/>
<line x1="417.5" y1="353.5" x2="444.0" y2="353.5" stroke="#8c8c8c" stroke-width="0.6" fill="none"/>
<path d="M417.5,353.5 l3,-0.9 v1.8 z M444.0,353.5 l-3,-0.9 v1.8 z" fill="#666"/>
<text x="0.0" y="0.0" font-family="Liberation Serif" font-size="7" fill="#707070" text-anchor="middle" transform="translate(430.7 350.5) rotate(0) scale(0.8 1)">W</text>
<polygon points="63.0,469.3 148.4,423.0 167.9,436.7 127.0,460.0 88.5,483.5" fill="#e8e8e8"/>
<polygon points="63.0,469.3 75.0,476.0 75.0,491.0 63.0,484.0" fill="#c6c6c6"/>
<polygon points="79.0,478.3 88.5,483.5 88.5,497.7 79.0,492.5" fill="#c6c6c6"/>
<polygon points="88.5,483.5 127.0,460.0 127.0,462.0 167.9,436.7 167.9,449.0 127.0,474.0 127.0,476.4 88.5,497.7" fill="#858585"/>
<polygon points="75.0,476.0 79.0,478.3 79.0,492.5 75.0,491.0" fill="#7c7c7c"/>
<polygon points="75.0,476.0 79.0,478.3 86.0,474.3 82.0,472.0" fill="#8a8a8a"/>
<ellipse cx="95.0" cy="464.5" rx="14.2" ry="6.5" fill="#d8d8d8"/>
<ellipse cx="95.0" cy="463.5" rx="14.0" ry="5.6" fill="url(#holeg)"/>
<ellipse cx="141.3" cy="437.8" rx="8.3" ry="4.7" fill="url(#holeg)"/>
<polygon points="146.5,434.8 148.5,436.0 157.0,431.0 157.0,428.0" fill="#8a8a8a"/>
<circle cx="93.8" cy="487.6" r="5.0" fill="#2b2b2b"/>
<circle cx="94.2" cy="487.2" r="3.8" fill="none" stroke="#555" stroke-width="0.6"/>
<circle cx="94.3" cy="487.6" r="1.8" fill="#8a8a8a"/>
<circle cx="165.0" cy="445.6" r="5.0" fill="#2b2b2b"/>
<circle cx="165.4" cy="445.2" r="3.8" fill="none" stroke="#555" stroke-width="0.6"/>
<circle cx="165.5" cy="445.6" r="1.8" fill="#8a8a8a"/>
<path d="M242.5,407 Q242.5,405 244.5,405 H322.3 L328,411.4 H412.1 Q414.1,411.4 414.1,413.4 V453.8 Q414.1,455.8 412.1,455.8 H328 L322.3,462.7 H244.5 Q242.5,462.7 242.5,460.7 Z" stroke="#4a4a4a" stroke-width="1.1" fill="#f2f2f2"/>
<rect x="242.5" y="430.8" width="20.1" height="6.8" rx="0" fill="#f2f2f2" stroke="none"/>
<line x1="242.5" y1="430.8" x2="262.6" y2="430.8" stroke="#505050" stroke-width="0.9" fill="none"/>
<line x1="242.5" y1="437.6" x2="262.6" y2="437.6" stroke="#505050" stroke-width="0.9" fill="none"/>
<rect x="393.5" y="430.8" width="20.6" height="6.8" rx="0" fill="#f2f2f2" stroke="none"/>
<line x1="393.5" y1="430.8" x2="414.1" y2="430.8" stroke="#505050" stroke-width="0.9" fill="none"/>
<line x1="393.5" y1="437.6" x2="414.1" y2="437.6" stroke="#505050" stroke-width="0.9" fill="none"/>
<rect x="248.0" y="430.8" width="10.0" height="6.8" rx="0" stroke="#505050" stroke-width="0.9" fill="none"/>
<rect x="398.5" y="430.8" width="10.0" height="6.8" rx="0" stroke="#505050" stroke-width="0.9" fill="none"/>
<rect x="393.0" y="456.0" width="18.0" height="6.5" rx="1" stroke="#4a4a4a" stroke-width="1.1" fill="#f2f2f2"/>
<circle cx="283.6" cy="434.2" r="21.6" stroke="#555" stroke-width="1.6" fill="none"/>
<circle cx="380.4" cy="434.2" r="14.1" stroke="#555" stroke-width="1.6" fill="none"/>
<line x1="258.0" y1="434.2" x2="310.0" y2="434.2" stroke="#888" stroke-width="0.6" stroke-dasharray="5 1.5 1 1.5" fill="none"/>
<line x1="362.0" y1="434.2" x2="400.0" y2="434.2" stroke="#888" stroke-width="0.6" stroke-dasharray="5 1.5 1 1.5" fill="none"/>
<line x1="283.6" y1="408.0" x2="283.6" y2="483.0" stroke="#888" stroke-width="0.6" stroke-dasharray="5 1.5 1 1.5" fill="none"/>
<line x1="380.4" y1="416.0" x2="380.4" y2="483.0" stroke="#888" stroke-width="0.6" stroke-dasharray="5 1.5 1 1.5" fill="none"/>
<line x1="263.9" y1="443.0" x2="303.3" y2="425.4" stroke="#555" stroke-width="0.55"/>
<path d="M303.3,425.4 L300.8,427.5 L300.0,425.9 Z" fill="#444"/>
<path d="M263.9,443.0 L267.2,442.5 L266.4,440.9 Z" fill="#444"/>
<text x="0.0" y="0.0" font-family="Liberation Serif" font-size="7" fill="#6a6a80" text-anchor="middle" transform="translate(279.0 431.9) rotate(-24) scale(0.8 1)">ø D</text>
<line x1="367.5" y1="439.9" x2="393.3" y2="428.5" stroke="#555" stroke-width="0.55"/>
<path d="M393.3,428.5 L390.7,430.6 L390.0,428.9 Z" fill="#444"/>
<path d="M367.5,439.9 L370.8,439.5 L370.1,437.8 Z" fill="#444"/>
<text x="0.0" y="0.0" font-family="Liberation Serif" font-size="7" fill="#6a6a80" text-anchor="middle" transform="translate(376.8 431.4) rotate(-24) scale(0.8 1)">ø d</text>
<line x1="328.0" y1="405.0" x2="434.0" y2="405.0" stroke="#8c8c8c" stroke-width="0.6" fill="none"/>
<line x1="414.0" y1="462.7" x2="434.0" y2="462.7" stroke="#8c8c8c" stroke-width="0.6" fill="none"/>
<line x1="431.0" y1="405.0" x2="431.0" y2="462.7" stroke="#8c8c8c" stroke-width="0.6" fill="none"/>
<path d="M431.0,405.0 l-0.9,3 h1.8 z M431.0,462.7 l-0.9,-3 h1.8 z" fill="#666"/>
<text x="0.0" y="0.0" font-family="Liberation Serif" font-size="5" fill="#707070" text-anchor="middle" transform="translate(425.5 434.0) rotate(90) scale(0.8 1)">H</text>
<line x1="283.6" y1="480.2" x2="380.4" y2="480.2" stroke="#8c8c8c" stroke-width="0.6" fill="none"/>
<path d="M283.6,480.2 l3,-0.9 v1.8 z M380.4,480.2 l-3,-0.9 v1.8 z" fill="#666"/>
<text x="0.0" y="0.0" font-family="Liberation Serif" font-size="8.5" fill="#707070" text-anchor="middle" transform="translate(331.9 477.5) rotate(0) scale(0.8 1)">S</text>
<line x1="242.5" y1="462.0" x2="242.5" y2="498.0" stroke="#8c8c8c" stroke-width="0.6" fill="none"/>
<line x1="414.1" y1="456.0" x2="414.1" y2="498.0" stroke="#8c8c8c" stroke-width="0.6" fill="none"/>
<line x1="242.5" y1="495.3" x2="414.1" y2="495.3" stroke="#8c8c8c" stroke-width="0.6" fill="none"/>
<path d="M242.5,495.3 l3,-0.9 v1.8 z M414.1,495.3 l-3,-0.9 v1.8 z" fill="#666"/>
<text x="0.0" y="0.0" font-family="Liberation Serif" font-size="8.5" fill="#707070" text-anchor="middle" transform="translate(328.0 492.5) rotate(0) scale(0.8 1)">L</text>
<rect x="444.2" y="405.0" width="26.2" height="57.0" rx="1" stroke="#4a4a4a" stroke-width="1.1" fill="#f2f2f2"/>
<line x1="444.2" y1="408.5" x2="470.4" y2="408.5" stroke="#505050" stroke-width="0.9" fill="none"/>
<line x1="444.2" y1="430.8" x2="470.4" y2="430.8" stroke="#505050" stroke-width="0.9" fill="none"/>
<line x1="444.2" y1="437.6" x2="470.4" y2="437.6" stroke="#505050" stroke-width="0.9" fill="none"/>
<line x1="450.0" y1="430.8" x2="450.0" y2="437.6" stroke="#505050" stroke-width="0.9" fill="none"/>
<line x1="457.3" y1="430.8" x2="457.3" y2="437.6" stroke="#505050" stroke-width="0.9" fill="none"/>
<line x1="465.0" y1="430.8" x2="465.0" y2="437.6" stroke="#505050" stroke-width="0.9" fill="none"/>
<line x1="444.2" y1="459.0" x2="470.4" y2="459.0" stroke="#505050" stroke-width="0.9" fill="none"/>
<line x1="444.2" y1="462.0" x2="444.2" y2="482.0" stroke="#8c8c8c" stroke-width="0.6" fill="none"/>
<line x1="470.4" y1="462.0" x2="470.4" y2="482.0" stroke="#8c8c8c" stroke-width="0.6" fill="none"/>
<line x1="444.2" y1="479.3" x2="470.4" y2="479.3" stroke="#8c8c8c" stroke-width="0.6" fill="none"/>
<path d="M444.2,479.3 l3,-0.9 v1.8 z M470.4,479.3 l-3,-0.9 v1.8 z" fill="#666"/>
<text x="0.0" y="0.0" font-family="Liberation Serif" font-size="7" fill="#707070" text-anchor="middle" transform="translate(457.4 476.5) rotate(0) scale(0.8 1)">H</text>
<polygon points="67.9,589.3 141.4,549.7 161.9,561.2 130.0,579.0 92.2,601.5" fill="#e8e8e8"/>
<polygon points="67.9,589.3 78.5,595.0 78.5,620.5 67.9,614.3" fill="#c6c6c6"/>
<polygon points="82.0,597.0 92.2,601.5 92.2,628.4 82.0,623.0" fill="#c6c6c6"/>
<polygon points="92.2,601.5 130.0,579.0 130.0,582.0 161.9,561.2 161.9,590.0 130.0,609.0 130.0,612.0 92.2,628.4" fill="#858585"/>
<polygon points="78.5,595.0 82.0,597.0 82.0,623.0 78.5,620.5" fill="#7c7c7c"/>
<polygon points="78.5,595.0 82.0,597.0 88.0,593.5 84.5,591.5" fill="#8a8a8a"/>
<ellipse cx="99.2" cy="583.6" rx="14.7" ry="7.7" fill="#d8d8d8"/>
<ellipse cx="99.2" cy="582.4" rx="14.5" ry="6.7" fill="url(#holeg)"/>
<ellipse cx="135.0" cy="563.8" rx="9.0" ry="5.4" fill="url(#holeg)"/>
<polygon points="141.0,560.5 143.0,562.0 150.0,557.5 150.0,554.5" fill="#8a8a8a"/>
<circle cx="98.6" cy="606.0" r="4.8" fill="#2b2b2b"/>
<circle cx="99.0" cy="605.6" r="3.6" fill="none" stroke="#555" stroke-width="0.6"/>
<circle cx="99.1" cy="606.0" r="1.8" fill="#8a8a8a"/>
<circle cx="98.6" cy="620.7" r="4.8" fill="#2b2b2b"/>
<circle cx="99.0" cy="620.3" r="3.6" fill="none" stroke="#555" stroke-width="0.6"/>
<circle cx="99.1" cy="620.7" r="1.8" fill="#8a8a8a"/>
<circle cx="158.7" cy="568.9" r="4.8" fill="#2b2b2b"/>
<circle cx="159.1" cy="568.5" r="3.6" fill="none" stroke="#555" stroke-width="0.6"/>
<circle cx="159.2" cy="568.9" r="1.8" fill="#8a8a8a"/>
<circle cx="158.7" cy="584.2" r="4.8" fill="#2b2b2b"/>
<circle cx="159.1" cy="583.8" r="3.6" fill="none" stroke="#555" stroke-width="0.6"/>
<circle cx="159.2" cy="584.2" r="1.8" fill="#8a8a8a"/>
<path d="M247.1,540.7 Q247.1,538.7 249.1,538.7 H320 Q324,538.7 326,541.5 Q328,544.8 332,544.8 H403 Q405,544.8 405,546.8 V587.7 Q405,589.7 403,589.7 H332 Q328,589.7 326,592.5 Q324,595.6 320,595.6 H249.1 Q247.1,595.6 247.1,593.6 Z" stroke="#4a4a4a" stroke-width="1.1" fill="#f2f2f2"/>
<rect x="247.1" y="564.2" width="20.4" height="5.7" rx="0" fill="#f2f2f2" stroke="none"/>
<line x1="247.1" y1="564.2" x2="267.5" y2="564.2" stroke="#505050" stroke-width="0.9" fill="none"/>
<line x1="247.1" y1="569.9" x2="267.5" y2="569.9" stroke="#505050" stroke-width="0.9" fill="none"/>
<rect x="383.0" y="564.2" width="22.0" height="5.7" rx="0" fill="#f2f2f2" stroke="none"/>
<line x1="383.0" y1="564.2" x2="405.0" y2="564.2" stroke="#505050" stroke-width="0.9" fill="none"/>
<line x1="383.0" y1="569.9" x2="405.0" y2="569.9" stroke="#505050" stroke-width="0.9" fill="none"/>
<rect x="252.0" y="564.2" width="10.0" height="5.7" rx="0" stroke="#505050" stroke-width="0.9" fill="none"/>
<rect x="390.0" y="564.2" width="10.0" height="5.7" rx="0" stroke="#505050" stroke-width="0.9" fill="none"/>
<rect x="249.4" y="595.6" width="18.2" height="5.0" rx="1" stroke="#4a4a4a" stroke-width="1.1" fill="#f2f2f2"/>
<rect x="385.0" y="589.7" width="18.2" height="5.3" rx="1" stroke="#4a4a4a" stroke-width="1.1" fill="#f2f2f2"/>
<circle cx="290.4" cy="566.9" r="23.5" stroke="#555" stroke-width="1.6" fill="none"/>
<circle cx="368.6" cy="566.9" r="14.8" stroke="#555" stroke-width="1.6" fill="none"/>
<line x1="262.0" y1="566.9" x2="322.0" y2="566.9" stroke="#888" stroke-width="0.6" stroke-dasharray="5 1.5 1 1.5" fill="none"/>
<line x1="348.0" y1="566.9" x2="392.0" y2="566.9" stroke="#888" stroke-width="0.6" stroke-dasharray="5 1.5 1 1.5" fill="none"/>
<line x1="290.4" y1="537.0" x2="290.4" y2="610.0" stroke="#888" stroke-width="0.6" stroke-dasharray="5 1.5 1 1.5" fill="none"/>
<line x1="368.6" y1="547.0" x2="368.6" y2="610.0" stroke="#888" stroke-width="0.6" stroke-dasharray="5 1.5 1 1.5" fill="none"/>
<line x1="268.9" y1="576.5" x2="311.9" y2="557.3" stroke="#555" stroke-width="0.55"/>
<path d="M311.9,557.3 L309.3,559.5 L308.6,557.8 Z" fill="#444"/>
<path d="M268.9,576.5 L272.2,576.0 L271.5,574.3 Z" fill="#444"/>
<text x="0.0" y="0.0" font-family="Liberation Serif" font-size="7" fill="#6a6a80" text-anchor="middle" transform="translate(285.6 564.7) rotate(-24) scale(0.8 1)">ø D</text>
<line x1="355.1" y1="572.9" x2="382.1" y2="560.9" stroke="#555" stroke-width="0.55"/>
<path d="M382.1,560.9 L379.6,563.0 L378.8,561.4 Z" fill="#444"/>
<path d="M355.1,572.9 L358.4,572.4 L357.6,570.8 Z" fill="#444"/>
<text x="0.0" y="0.0" font-family="Liberation Serif" font-size="7" fill="#6a6a80" text-anchor="middle" transform="translate(364.9 564.1) rotate(-24) scale(0.8 1)">ø d</text>
<line x1="235.0" y1="538.7" x2="247.0" y2="538.7" stroke="#8c8c8c" stroke-width="0.6" fill="none"/>
<line x1="235.0" y1="600.6" x2="249.0" y2="600.6" stroke="#8c8c8c" stroke-width="0.6" fill="none"/>
<line x1="237.5" y1="538.7" x2="237.5" y2="600.6" stroke="#8c8c8c" stroke-width="0.6" fill="none"/>
<path d="M237.5,538.7 l-0.9,3 h1.8 z M237.5,600.6 l-0.9,-3 h1.8 z" fill="#666"/>
<text x="0.0" y="0.0" font-family="Liberation Serif" font-size="5" fill="#707070" text-anchor="middle" transform="translate(232.5 570.0) rotate(90) scale(0.8 1)">H</text>
<line x1="290.4" y1="607.0" x2="368.6" y2="607.0" stroke="#8c8c8c" stroke-width="0.6" fill="none"/>
<path d="M290.4,607.0 l3,-0.9 v1.8 z M368.6,607.0 l-3,-0.9 v1.8 z" fill="#666"/>
<text x="0.0" y="0.0" font-family="Liberation Serif" font-size="8.5" fill="#707070" text-anchor="middle" transform="translate(329.6 604.5) rotate(0) scale(0.8 1)">S</text>
<line x1="247.1" y1="596.0" x2="247.1" y2="625.0" stroke="#8c8c8c" stroke-width="0.6" fill="none"/>
<line x1="405.0" y1="595.0" x2="405.0" y2="625.0" stroke="#8c8c8c" stroke-width="0.6" fill="none"/>
<line x1="247.1" y1="622.3" x2="405.0" y2="622.3" stroke="#8c8c8c" stroke-width="0.6" fill="none"/>
<path d="M247.1,622.3 l3,-0.9 v1.8 z M405.0,622.3 l-3,-0.9 v1.8 z" fill="#666"/>
<text x="0.0" y="0.0" font-family="Liberation Serif" font-size="8.5" fill="#707070" text-anchor="middle" transform="translate(325.7 619.5) rotate(0) scale(0.8 1)">L</text>
<rect x="421.0" y="538.7" width="49.9" height="56.3" rx="1.5" stroke="#4a4a4a" stroke-width="1.1" fill="#f2f2f2"/>
<line x1="421.0" y1="564.2" x2="470.9" y2="564.2" stroke="#505050" stroke-width="0.9" fill="none"/>
<line x1="421.0" y1="569.9" x2="470.9" y2="569.9" stroke="#505050" stroke-width="0.9" fill="none"/>
<line x1="424.0" y1="564.2" x2="424.0" y2="569.9" stroke="#505050" stroke-width="0.9" fill="none"/>
<line x1="428.0" y1="564.2" x2="428.0" y2="569.9" stroke="#505050" stroke-width="0.9" fill="none"/>
<line x1="437.0" y1="564.2" x2="437.0" y2="569.9" stroke="#505050" stroke-width="0.9" fill="none"/>
<line x1="454.0" y1="564.2" x2="454.0" y2="569.9" stroke="#505050" stroke-width="0.9" fill="none"/>
<line x1="464.0" y1="564.2" x2="464.0" y2="569.9" stroke="#505050" stroke-width="0.9" fill="none"/>
<line x1="468.0" y1="564.2" x2="468.0" y2="569.9" stroke="#505050" stroke-width="0.9" fill="none"/>
<rect x="423.0" y="595.0" width="18.0" height="5.5" rx="1" stroke="#4a4a4a" stroke-width="1.1" fill="#f2f2f2"/>
<rect x="450.0" y="595.0" width="18.0" height="5.5" rx="1" stroke="#4a4a4a" stroke-width="1.1" fill="#f2f2f2"/>
<line x1="421.0" y1="595.0" x2="421.0" y2="625.0" stroke="#8c8c8c" stroke-width="0.6" fill="none"/>
<line x1="470.9" y1="595.0" x2="470.9" y2="625.0" stroke="#8c8c8c" stroke-width="0.6" fill="none"/>
<line x1="421.0" y1="622.3" x2="470.9" y2="622.3" stroke="#8c8c8c" stroke-width="0.6" fill="none"/>
<path d="M421.0,622.3 l3,-0.9 v1.8 z M470.9,622.3 l-3,-0.9 v1.8 z" fill="#666"/>
<text x="0.0" y="0.0" font-family="Liberation Serif" font-size="7" fill="#707070" text-anchor="middle" transform="translate(445.4 619.5) rotate(0) scale(0.8 1)">H</text>
<polygon points="62.6,720.7 81.1,709.8 98.5,698.9 121.7,697.0 156.3,680.5 175.0,692.0 147.3,706.3 143.5,716.0 122.0,736.0 105.0,739.0 97.4,740.2 86.5,740.2 71.3,731.5 62.6,722.5" fill="#e8e8e8"/>
<polygon points="62.6,722.5 71.3,731.5 71.3,741.0 62.6,732.0" fill="#d2d2d2"/>
<polygon points="71.3,731.5 86.5,740.2 86.5,750.0 71.3,741.0" fill="#c6c6c6"/>
<polygon points="86.5,740.2 97.4,740.2 97.4,750.0 86.5,750.0" fill="#a6a6a6"/>
<polygon points="97.4,740.2 105.0,739.0 122.0,736.0 122.0,746.0 105.0,756.0 97.4,750.0" fill="#8c8c8c"/>
<polygon points="122.0,736.0 143.5,724.0 147.3,706.3 175.0,692.0 175.0,702.2 147.3,716.3 143.5,734.2 122.0,746.0" fill="#888"/>
<line x1="122.0" y1="736.0" x2="122.0" y2="746.0" stroke="#bbb" stroke-width="1.2"/>
<ellipse cx="101.9" cy="722.7" rx="21.1" ry="12.1" fill="url(#holeg)"/>
<ellipse cx="103.5" cy="727.5" rx="17.0" ry="7.5" fill="#ececec"/>
<polygon points="100.0,702.8 120.5,701.0 110.2,708.0" fill="#8a8a8a"/>
<polygon points="126.2,718.2 139.0,711.8 136.4,722.7" fill="#8a8a8a"/>
<ellipse cx="151.1" cy="693.2" rx="8.0" ry="5.0" fill="url(#holeg)"/>
<polygon points="135.5,702.5 137.0,704.0 147.0,699.0 146.0,697.5" fill="#8a8a8a"/>
<polygon points="156.0,691.0 158.0,692.5 166.0,688.0 165.0,686.0" fill="#8a8a8a"/>
<circle cx="66.1" cy="727.8" r="4.0" fill="#2b2b2b"/>
<circle cx="66.5" cy="727.4" r="2.8" fill="none" stroke="#555" stroke-width="0.6"/>
<circle cx="66.6" cy="727.8" r="1.8" fill="#8a8a8a"/>
<circle cx="101.3" cy="748.2" r="4.0" fill="#2b2b2b"/>
<circle cx="101.7" cy="747.8" r="2.8" fill="none" stroke="#555" stroke-width="0.6"/>
<circle cx="101.8" cy="748.2" r="1.8" fill="#8a8a8a"/>
<circle cx="150.6" cy="711.0" r="2.0" fill="#555"/>
<circle cx="171.5" cy="699.0" r="2.0" fill="#555"/>
<ellipse cx="128.0" cy="694.5" rx="2.8" ry="1.6" fill="#333" transform="rotate(-30 128.0 694.5)"/>
<ellipse cx="148.5" cy="683.0" rx="2.8" ry="1.6" fill="#333" transform="rotate(-30 148.5 683.0)"/>
<path d="M261.7,645.2 H334 L369.6,669.6 H424.5 Q426.5,669.6 426.5,671.6 V706.7 Q426.5,708.7 424.5,708.7 H369.6 L334,733.6 H261.7 V720.6 L251.1,705.2 V674.4 L261.7,659 Z" stroke="#4a4a4a" stroke-width="1.1" fill="#f2f2f2"/>
<rect x="381.0" y="686.2" width="45.5" height="5.0" rx="0" fill="#f2f2f2" stroke="none"/>
<line x1="382.0" y1="686.2" x2="426.5" y2="686.2" stroke="#505050" stroke-width="0.9" fill="none"/>
<line x1="382.0" y1="691.2" x2="426.5" y2="691.2" stroke="#505050" stroke-width="0.9" fill="none"/>
<path d="M382,686.2 H369 Q365.5,686.2 365.5,688.7 Q365.5,691.2 369,691.2 H382" stroke="#505050" stroke-width="0.9" fill="none"/>
<circle cx="296.1" cy="689.3" r="29.6" stroke="#555" stroke-width="1.6" fill="none"/>
<circle cx="396.8" cy="689.3" r="14.7" stroke="#555" stroke-width="1.6" fill="none"/>
<rect x="294.9" y="645.8" width="4.8" height="14.0" rx="0" fill="#f2f2f2" stroke="#555" stroke-width="0.8"/>
<rect x="294.9" y="718.9" width="4.8" height="14.2" rx="0" fill="#f2f2f2" stroke="#555" stroke-width="0.8"/>
<path d="M329.5,655 L353.2,670 Q354.5,671.5 352.5,672 L330,673.5 Q328.1,673.5 328.1,672 V656.5 Q328.1,654.5 329.5,655 Z" stroke="#505050" stroke-width="0.9" fill="none"/>
<path d="M330,705.2 H352.5 Q354.5,705.5 353.2,707 L329.5,723.5 Q328.1,724.2 328.1,722.5 V707 Q328.1,705.2 330,705.2 Z" stroke="#505050" stroke-width="0.9" fill="none"/>
<rect x="258.7" y="650.0" width="3.0" height="14.0" rx="0" stroke="#505050" stroke-width="0.9" fill="none"/>
<rect x="258.7" y="713.0" width="3.0" height="14.0" rx="0" stroke="#505050" stroke-width="0.9" fill="none"/>
<line x1="262.0" y1="689.3" x2="330.0" y2="689.3" stroke="#888" stroke-width="0.6" stroke-dasharray="5 1.5 1 1.5" fill="none"/>
<line x1="365.0" y1="689.3" x2="420.0" y2="689.3" stroke="#888" stroke-width="0.6" stroke-dasharray="5 1.5 1 1.5" fill="none"/>
<line x1="296.1" y1="648.0" x2="296.1" y2="753.0" stroke="#888" stroke-width="0.6" stroke-dasharray="5 1.5 1 1.5" fill="none"/>
<line x1="396.8" y1="668.0" x2="396.8" y2="753.0" stroke="#888" stroke-width="0.6" stroke-dasharray="5 1.5 1 1.5" fill="none"/>
<line x1="269.1" y1="701.3" x2="323.1" y2="677.3" stroke="#555" stroke-width="0.55"/>
<path d="M323.1,677.3 L320.6,679.4 L319.9,677.7 Z" fill="#444"/>
<path d="M269.1,701.3 L272.3,700.9 L271.6,699.2 Z" fill="#444"/>
<text x="0.0" y="0.0" font-family="Liberation Serif" font-size="7" fill="#6a6a80" text-anchor="middle" transform="translate(290.4 687.5) rotate(-24) scale(0.8 1)">ø D</text>
<line x1="383.4" y1="695.3" x2="410.2" y2="683.3" stroke="#555" stroke-width="0.55"/>
<path d="M410.2,683.3 L407.7,685.4 L406.9,683.8 Z" fill="#444"/>
<path d="M383.4,695.3 L386.7,694.8 L385.9,693.2 Z" fill="#444"/>
<text x="0.0" y="0.0" font-family="Liberation Serif" font-size="7" fill="#6a6a80" text-anchor="middle" transform="translate(393.2 686.5) rotate(-24) scale(0.8 1)">ø d</text>
<rect x="370.0" y="708.7" width="13.3" height="9.5" rx="1" stroke="#4a4a4a" stroke-width="1.1" fill="#f2f2f2"/>
<rect x="412.2" y="708.7" width="13.1" height="9.5" rx="1" stroke="#4a4a4a" stroke-width="1.1" fill="#f2f2f2"/>
<line x1="234.0" y1="645.2" x2="262.0" y2="645.2" stroke="#8c8c8c" stroke-width="0.6" fill="none"/>
<line x1="234.0" y1="733.6" x2="262.0" y2="733.6" stroke="#8c8c8c" stroke-width="0.6" fill="none"/>
<line x1="236.9" y1="645.2" x2="236.9" y2="733.6" stroke="#8c8c8c" stroke-width="0.6" fill="none"/>
<path d="M236.9,645.2 l-0.9,3 h1.8 z M236.9,733.6 l-0.9,-3 h1.8 z" fill="#666"/>
<text x="0.0" y="0.0" font-family="Liberation Serif" font-size="5" fill="#707070" text-anchor="middle" transform="translate(232.0 690.0) rotate(90) scale(0.8 1)">H</text>
<line x1="296.1" y1="750.2" x2="396.8" y2="750.2" stroke="#8c8c8c" stroke-width="0.6" fill="none"/>
<path d="M296.1,750.2 l3,-0.9 v1.8 z M396.8,750.2 l-3,-0.9 v1.8 z" fill="#666"/>
<text x="0.0" y="0.0" font-family="Liberation Serif" font-size="8.5" fill="#707070" text-anchor="middle" transform="translate(347.0 747.5) rotate(0) scale(0.8 1)">S</text>
<line x1="251.1" y1="706.0" x2="251.1" y2="768.0" stroke="#8c8c8c" stroke-width="0.6" fill="none"/>
<line x1="426.5" y1="718.0" x2="426.5" y2="768.0" stroke="#8c8c8c" stroke-width="0.6" fill="none"/>
<line x1="251.1" y1="765.6" x2="426.5" y2="765.6" stroke="#8c8c8c" stroke-width="0.6" fill="none"/>
<path d="M251.1,765.6 l3,-0.9 v1.8 z M426.5,765.6 l-3,-0.9 v1.8 z" fill="#666"/>
<text x="0.0" y="0.0" font-family="Liberation Serif" font-size="8.5" fill="#707070" text-anchor="middle" transform="translate(340.0 763.0) rotate(0) scale(0.8 1)">L</text>
<rect x="451.4" y="645.2" width="18.9" height="87.2" rx="0" stroke="#4a4a4a" stroke-width="1.1" fill="#f2f2f2"/>
<circle cx="460.8" cy="654.2" r="6.0" stroke="#505050" stroke-width="0.9" fill="none"/>
<circle cx="460.8" cy="654.2" r="3.3" stroke="#505050" stroke-width="0.9" fill="none"/>
<circle cx="460.8" cy="724.1" r="6.0" stroke="#505050" stroke-width="0.9" fill="none"/>
<circle cx="460.8" cy="724.1" r="3.3" stroke="#505050" stroke-width="0.9" fill="none"/>
<line x1="451.4" y1="660.5" x2="470.3" y2="660.5" stroke="#505050" stroke-width="0.9" fill="none"/>
<line x1="451.4" y1="674.5" x2="470.3" y2="674.5" stroke="#505050" stroke-width="0.9" fill="none"/>
<line x1="451.4" y1="705.5" x2="470.3" y2="705.5" stroke="#505050" stroke-width="0.9" fill="none"/>
<line x1="451.4" y1="717.0" x2="470.3" y2="717.0" stroke="#505050" stroke-width="0.9" fill="none"/>
<line x1="451.4" y1="733.0" x2="451.4" y2="753.0" stroke="#8c8c8c" stroke-width="0.6" fill="none"/>
<line x1="470.3" y1="733.0" x2="470.3" y2="753.0" stroke="#8c8c8c" stroke-width="0.6" fill="none"/>
<line x1="451.4" y1="750.2" x2="470.3" y2="750.2" stroke="#8c8c8c" stroke-width="0.6" fill="none"/>
<path d="M451.4,750.2 l3,-0.9 v1.8 z M470.3,750.2 l-3,-0.9 v1.8 z" fill="#666"/>
<text x="0.0" y="0.0" font-family="Liberation Serif" font-size="7" fill="#707070" text-anchor="middle" transform="translate(460.8 747.5) rotate(0) scale(0.8 1)">H</text>
<path d="M623.6,188.9 V181.5 Q623.6,179.3 626,178.6 L639,174.3 C648,171.5 654,170.2 660.8,170.2 C672,170.2 682,176 693.7,178 L730,178 C741.7,176 751.7,170.2 762.9,170.2 C769.7,170.2 775.7,171.5 784.7,174.3 L797.7,178.6 Q800.1,179.3 800.1,181.5 V188.9 L800.1,201.5 Q800.1,203.9 797.7,204.6 L784.7,207.8 C775.7,210.6 769.7,212.1 762.9,212.1 C751.7,212.1 741.7,206.5 730,204.8 L693.7,204.8 C682,206.5 672,212.1 660.8,212.1 C654,212.1 648,210.6 639,207.8 L626,204.6 Q623.6,203.9 623.6,201.5 Z" stroke="#4a4a4a" stroke-width="1.1" fill="#f2f2f2"/>
<rect x="623.6" y="188.9" width="20.4" height="5.5" rx="0" fill="#f2f2f2" stroke="none"/>
<line x1="623.6" y1="188.9" x2="644.0" y2="188.9" stroke="#505050" stroke-width="0.9" fill="none"/>
<line x1="623.6" y1="194.4" x2="644.0" y2="194.4" stroke="#505050" stroke-width="0.9" fill="none"/>
<rect x="779.7" y="188.9" width="20.4" height="5.5" rx="0" fill="#f2f2f2" stroke="none"/>
<line x1="779.7" y1="188.9" x2="800.1" y2="188.9" stroke="#505050" stroke-width="0.9" fill="none"/>
<line x1="779.7" y1="194.4" x2="800.1" y2="194.4" stroke="#505050" stroke-width="0.9" fill="none"/>
<rect x="628.0" y="188.9" width="11.4" height="5.5" rx="0" stroke="#505050" stroke-width="0.9" fill="none"/>
<rect x="784.3" y="188.9" width="11.4" height="5.5" rx="0" stroke="#505050" stroke-width="0.9" fill="none"/>
<path d="M686.5,181.1 H706.5 Q709.6,181.1 709.6,184 Q708.6,191.4 709.6,198.8 Q709.6,201.7 706.5,201.7 H686.5 Q683.6,201.7 683.6,198.8 Q684.6,191.4 683.6,184 Q683.6,181.1 686.5,181.1 Z" stroke="#505050" stroke-width="0.9" fill="none"/>
<path d="M717,181.1 H737 Q740.1,181.1 740.1,184 Q739.1,191.4 740.1,198.8 Q740.1,201.7 737,201.7 H717 Q714.1,201.7 714.1,198.8 Q715.1,191.4 714.1,184 Q714.1,181.1 717,181.1 Z" stroke="#505050" stroke-width="0.9" fill="none"/>
<rect x="628.0" y="171.1" width="11.4" height="6.0" rx="1" stroke="#4a4a4a" stroke-width="1.1" fill="#f2f2f2"/>
<rect x="784.3" y="171.1" width="11.4" height="6.0" rx="1" stroke="#4a4a4a" stroke-width="1.1" fill="#f2f2f2"/>
<rect x="624.0" y="204.0" width="18.6" height="12.7" rx="1.5" stroke="#4a4a4a" stroke-width="1.1" fill="#f2f2f2"/>
<rect x="781.1" y="204.0" width="18.6" height="12.7" rx="1.5" stroke="#4a4a4a" stroke-width="1.1" fill="#f2f2f2"/>
<circle cx="660.6" cy="191.4" r="17.3" stroke="#555" stroke-width="1" fill="none"/>
<circle cx="763.1" cy="191.4" r="17.3" stroke="#555" stroke-width="1" fill="none"/>
<line x1="640.0" y1="191.4" x2="681.0" y2="191.4" stroke="#888" stroke-width="0.6" stroke-dasharray="5 1.5 1 1.5" fill="none"/>
<line x1="742.0" y1="191.4" x2="783.0" y2="191.4" stroke="#888" stroke-width="0.6" stroke-dasharray="5 1.5 1 1.5" fill="none"/>
<line x1="660.6" y1="168.0" x2="660.6" y2="230.0" stroke="#888" stroke-width="0.6" stroke-dasharray="5 1.5 1 1.5" fill="none"/>
<line x1="763.1" y1="168.0" x2="763.1" y2="230.0" stroke="#888" stroke-width="0.6" stroke-dasharray="5 1.5 1 1.5" fill="none"/>
<line x1="633.5" y1="169.0" x2="633.5" y2="218.0" stroke="#888" stroke-width="0.6" stroke-dasharray="5 1.5 1 1.5" fill="none"/>
<line x1="790.0" y1="169.0" x2="790.0" y2="218.0" stroke="#888" stroke-width="0.6" stroke-dasharray="5 1.5 1 1.5" fill="none"/>
<line x1="646.3" y1="201.1" x2="674.9" y2="181.7" stroke="#555" stroke-width="0.55"/>
<path d="M674.9,181.7 L672.8,184.3 L671.8,182.8 Z" fill="#444"/>
<path d="M646.3,201.1 L649.4,200.0 L648.4,198.5 Z" fill="#444"/>
<text x="0.0" y="0.0" font-family="Liberation Serif" font-size="7" fill="#6a6a80" text-anchor="middle" transform="translate(656.2 189.5) rotate(-34) scale(0.8 1)">ø D</text>
<line x1="748.8" y1="201.1" x2="777.4" y2="181.7" stroke="#555" stroke-width="0.55"/>
<path d="M777.4,181.7 L775.3,184.3 L774.3,182.8 Z" fill="#444"/>
<path d="M748.8,201.1 L751.9,200.0 L750.9,198.5 Z" fill="#444"/>
<text x="0.0" y="0.0" font-family="Liberation Serif" font-size="7" fill="#6a6a80" text-anchor="middle" transform="translate(758.7 189.5) rotate(-34) scale(0.8 1)">ø d</text>
<line x1="763.0" y1="169.6" x2="815.0" y2="169.6" stroke="#8c8c8c" stroke-width="0.6" fill="none"/>
<line x1="800.0" y1="216.5" x2="815.0" y2="216.5" stroke="#8c8c8c" stroke-width="0.6" fill="none"/>
<line x1="811.4" y1="169.6" x2="811.4" y2="216.5" stroke="#8c8c8c" stroke-width="0.6" fill="none"/>
<path d="M811.4,169.6 l-0.9,3 h1.8 z M811.4,216.5 l-0.9,-3 h1.8 z" fill="#666"/>
<text x="0.0" y="0.0" font-family="Liberation Serif" font-size="7" fill="#707070" text-anchor="middle" transform="translate(806.5 193.0) rotate(90) scale(0.8 1)">H</text>
<line x1="660.6" y1="227.2" x2="763.1" y2="227.2" stroke="#8c8c8c" stroke-width="0.6" fill="none"/>
<path d="M660.6,227.2 l3,-0.9 v1.8 z M763.1,227.2 l-3,-0.9 v1.8 z" fill="#666"/>
<text x="0.0" y="0.0" font-family="Liberation Serif" font-size="8.5" fill="#707070" text-anchor="middle" transform="translate(711.9 224.5) rotate(0) scale(0.8 1)">S</text>
<line x1="623.7" y1="206.0" x2="623.7" y2="243.0" stroke="#8c8c8c" stroke-width="0.6" fill="none"/>
<line x1="800.7" y1="206.0" x2="800.7" y2="243.0" stroke="#8c8c8c" stroke-width="0.6" fill="none"/>
<line x1="623.7" y1="240.2" x2="800.7" y2="240.2" stroke="#8c8c8c" stroke-width="0.6" fill="none"/>
<path d="M623.7,240.2 l3,-0.9 v1.8 z M800.7,240.2 l-3,-0.9 v1.8 z" fill="#666"/>
<text x="0.0" y="0.0" font-family="Liberation Serif" font-size="8.5" fill="#707070" text-anchor="middle" transform="translate(711.9 237.5) rotate(0) scale(0.8 1)">L</text>
<rect x="821.9" y="170.3" width="25.1" height="43.3" rx="1" stroke="#4a4a4a" stroke-width="1.1" fill="#f2f2f2"/>
<line x1="827.5" y1="170.3" x2="827.5" y2="199.0" stroke="#505050" stroke-width="0.9" fill="none"/>
<line x1="834.4" y1="170.3" x2="834.4" y2="199.0" stroke="#505050" stroke-width="0.9" fill="none"/>
<line x1="841.5" y1="170.3" x2="841.5" y2="199.0" stroke="#505050" stroke-width="0.9" fill="none"/>
<line x1="821.9" y1="180.0" x2="847.0" y2="180.0" stroke="#505050" stroke-width="0.9" fill="none"/>
<line x1="821.9" y1="189.0" x2="847.0" y2="189.0" stroke="#505050" stroke-width="0.9" fill="none"/>
<line x1="821.9" y1="194.4" x2="847.0" y2="194.4" stroke="#505050" stroke-width="0.9" fill="none"/>
<line x1="821.9" y1="199.0" x2="847.0" y2="199.0" stroke="#505050" stroke-width="0.9" fill="none"/>
<rect x="824.5" y="201.0" width="20.0" height="12.6" rx="1" stroke="#4a4a4a" stroke-width="1.1" fill="#f2f2f2"/>
<rect x="827.0" y="204.0" width="15.0" height="9.6" rx="0" stroke="#505050" stroke-width="0.9" fill="none"/>
<line x1="821.9" y1="214.0" x2="821.9" y2="231.0" stroke="#8c8c8c" stroke-width="0.6" fill="none"/>
<line x1="847.0" y1="214.0" x2="847.0" y2="231.0" stroke="#8c8c8c" stroke-width="0.6" fill="none"/>
<line x1="821.9" y1="227.9" x2="847.0" y2="227.9" stroke="#8c8c8c" stroke-width="0.6" fill="none"/>
<path d="M821.9,227.9 l3,-0.9 v1.8 z M847.0,227.9 l-3,-0.9 v1.8 z" fill="#666"/>
<text x="0.0" y="0.0" font-family="Liberation Serif" font-size="6" fill="#707070" text-anchor="middle" transform="translate(834.4 225.0) rotate(0) scale(0.8 1)">W</text>
<polygon points="913.2,229.6 927.7,214.5 945.4,208.3 966.2,196.8 978.7,185.4 999.4,178.6 1004.6,182.8 1010.4,184.4 1010.9,188.5 1016.1,194.2 1015.0,200.5 1009.8,203.1 999.4,210.3 980.7,218.6 966.2,223.8 949.6,239.4 939.2,244.6 926.7,246.7 915.3,240.5" fill="#303030"/>
<polygon points="913.2,229.6 927.7,214.5 945.4,208.3 966.2,196.8 978.7,185.4 999.4,178.6 1004.6,182.8 1010.4,184.4 999.0,196.0 980.7,201.0 960.0,210.0 945.0,222.0 926.0,233.0 918.0,236.0" fill="#393939" stroke="#484848" stroke-width="0.7"/>
<ellipse cx="938.1" cy="219.2" rx="11.4" ry="6.0" fill="url(#blkh)" stroke="#474747" stroke-width="0.8" transform="rotate(-8 938.1 219.2)"/>
<ellipse cx="987.5" cy="191.6" rx="11.0" ry="6.0" fill="url(#blkh)" stroke="#474747" stroke-width="0.8" transform="rotate(-8 987.5 191.6)"/>
<polygon points="946.5,210.0 958.0,205.0 964.0,209.0 952.0,215.5" fill="#262626"/>
<polygon points="961.0,203.0 971.5,197.5 976.0,201.0 966.0,207.0" fill="#262626"/>
<line x1="922.0" y1="231.0" x2="922.0" y2="242.0" stroke="#1a1a1a" stroke-width="1"/>
<line x1="1003.0" y1="182.0" x2="1003.0" y2="197.0" stroke="#1a1a1a" stroke-width="1"/>
<circle cx="934.5" cy="239.5" r="4.6" fill="url(#scr)"/>
<circle cx="936.2" cy="240.5" r="2.6" fill="#2a2a2a"/>
<circle cx="936.5" cy="240.7" r="1.3" fill="#777"/>
<circle cx="1012.0" cy="195.5" r="4.6" fill="url(#scr)"/>
<circle cx="1013.6" cy="196.7" r="2.6" fill="#2a2a2a"/>
<circle cx="1014.0" cy="197.0" r="1.3" fill="#777"/>
<path d="M636.8,290 V283 Q636.8,280.8 639,280.2 L652,276 C658,273 664,271.2 672.1,271.2 C680,271.2 686,274 691.4,278.2 H717.1 C724,272 731,268.1 739.6,268.1 C748,268.1 754,270 760,273 L777,280.2 Q779.2,280.8 779.2,283 V290 L779.2,303.5 Q779.2,305.6 777,306.2 L760,312 C754,314.8 748,316.8 739.6,316.8 C731,316.8 724,313 717.1,306 H691.4 C686,310 680,313.2 672.1,313.2 C664,313.2 658,311.6 652,308.5 L639,306.2 Q636.8,305.6 636.8,303.5 Z" stroke="#4a4a4a" stroke-width="1.1" fill="#f2f2f2"/>
<rect x="636.8" y="290.0" width="19.2" height="4.3" rx="0" fill="#f2f2f2" stroke="none"/>
<line x1="636.8" y1="290.0" x2="656.0" y2="290.0" stroke="#505050" stroke-width="0.9" fill="none"/>
<line x1="636.8" y1="294.3" x2="656.0" y2="294.3" stroke="#505050" stroke-width="0.9" fill="none"/>
<rect x="758.5" y="290.0" width="20.7" height="4.3" rx="0" fill="#f2f2f2" stroke="none"/>
<line x1="758.5" y1="290.0" x2="779.2" y2="290.0" stroke="#505050" stroke-width="0.9" fill="none"/>
<line x1="758.5" y1="294.3" x2="779.2" y2="294.3" stroke="#505050" stroke-width="0.9" fill="none"/>
<rect x="642.0" y="290.0" width="10.0" height="4.3" rx="0" stroke="#505050" stroke-width="0.9" fill="none"/>
<rect x="763.5" y="290.0" width="10.0" height="4.3" rx="0" stroke="#505050" stroke-width="0.9" fill="none"/>
<rect x="694.0" y="280.5" width="20.5" height="23.0" rx="4" stroke="#555" stroke-width="1.4" fill="none"/>
<rect x="641.0" y="272.9" width="10.8" height="7.3" rx="1" stroke="#4a4a4a" stroke-width="1.1" fill="#f2f2f2"/>
<rect x="764.5" y="272.9" width="10.8" height="7.3" rx="1" stroke="#4a4a4a" stroke-width="1.1" fill="#f2f2f2"/>
<rect x="636.8" y="306.0" width="18.2" height="11.8" rx="1.5" stroke="#4a4a4a" stroke-width="1.1" fill="#f2f2f2"/>
<rect x="760.0" y="306.0" width="19.2" height="11.8" rx="1.5" stroke="#4a4a4a" stroke-width="1.1" fill="#f2f2f2"/>
<circle cx="672.1" cy="292.1" r="16.7" stroke="#555" stroke-width="1.4" fill="none"/>
<circle cx="739.6" cy="292.1" r="19.3" stroke="#555" stroke-width="1.4" fill="none"/>
<line x1="652.0" y1="292.1" x2="692.0" y2="292.1" stroke="#888" stroke-width="0.6" stroke-dasharray="5 1.5 1 1.5" fill="none"/>
<line x1="718.0" y1="292.1" x2="762.0" y2="292.1" stroke="#888" stroke-width="0.6" stroke-dasharray="5 1.5 1 1.5" fill="none"/>
<line x1="672.1" y1="268.0" x2="672.1" y2="331.0" stroke="#888" stroke-width="0.6" stroke-dasharray="5 1.5 1 1.5" fill="none"/>
<line x1="739.6" y1="266.0" x2="739.6" y2="331.0" stroke="#888" stroke-width="0.6" stroke-dasharray="5 1.5 1 1.5" fill="none"/>
<line x1="646.5" y1="271.0" x2="646.5" y2="318.0" stroke="#888" stroke-width="0.6" stroke-dasharray="5 1.5 1 1.5" fill="none"/>
<line x1="770.0" y1="271.0" x2="770.0" y2="318.0" stroke="#888" stroke-width="0.6" stroke-dasharray="5 1.5 1 1.5" fill="none"/>
<line x1="657.6" y1="300.5" x2="686.6" y2="283.8" stroke="#555" stroke-width="0.55"/>
<path d="M686.6,283.8 L684.2,286.1 L683.3,284.6 Z" fill="#444"/>
<path d="M657.6,300.5 L660.9,299.6 L660.0,298.1 Z" fill="#444"/>
<text x="0.0" y="0.0" font-family="Liberation Serif" font-size="7" fill="#6a6a80" text-anchor="middle" transform="translate(667.9 289.9) rotate(-30) scale(0.8 1)">ø d</text>
<line x1="722.9" y1="301.8" x2="756.3" y2="282.5" stroke="#555" stroke-width="0.55"/>
<path d="M756.3,282.5 L754.0,284.8 L753.1,283.3 Z" fill="#444"/>
<path d="M722.9,301.8 L726.1,300.9 L725.2,299.4 Z" fill="#444"/>
<text x="0.0" y="0.0" font-family="Liberation Serif" font-size="7" fill="#6a6a80" text-anchor="middle" transform="translate(735.1 290.1) rotate(-30) scale(0.8 1)">ø D</text>
<line x1="740.0" y1="268.1" x2="797.0" y2="268.1" stroke="#8c8c8c" stroke-width="0.6" fill="none"/>
<line x1="779.0" y1="317.8" x2="797.0" y2="317.8" stroke="#8c8c8c" stroke-width="0.6" fill="none"/>
<line x1="794.2" y1="268.1" x2="794.2" y2="317.8" stroke="#8c8c8c" stroke-width="0.6" fill="none"/>
<path d="M794.2,268.1 l-0.9,3 h1.8 z M794.2,317.8 l-0.9,-3 h1.8 z" fill="#666"/>
<text x="0.0" y="0.0" font-family="Liberation Serif" font-size="5" fill="#707070" text-anchor="middle" transform="translate(789.0 293.0) rotate(90) scale(0.8 1)">H</text>
<line x1="672.1" y1="328.1" x2="739.6" y2="328.1" stroke="#8c8c8c" stroke-width="0.6" fill="none"/>
<path d="M672.1,328.1 l3,-0.9 v1.8 z M739.6,328.1 l-3,-0.9 v1.8 z" fill="#666"/>
<text x="0.0" y="0.0" font-family="Liberation Serif" font-size="8.5" fill="#707070" text-anchor="middle" transform="translate(706.0 325.5) rotate(0) scale(0.8 1)">S</text>
<line x1="636.8" y1="318.0" x2="636.8" y2="344.0" stroke="#8c8c8c" stroke-width="0.6" fill="none"/>
<line x1="779.2" y1="318.0" x2="779.2" y2="344.0" stroke="#8c8c8c" stroke-width="0.6" fill="none"/>
<line x1="636.8" y1="341.4" x2="779.2" y2="341.4" stroke="#8c8c8c" stroke-width="0.6" fill="none"/>
<path d="M636.8,341.4 l3,-0.9 v1.8 z M779.2,341.4 l-3,-0.9 v1.8 z" fill="#666"/>
<text x="0.0" y="0.0" font-family="Liberation Serif" font-size="8.5" fill="#707070" text-anchor="middle" transform="translate(707.5 338.5) rotate(0) scale(0.8 1)">L</text>
<rect x="809.2" y="268.1" width="25.3" height="48.7" rx="1.5" stroke="#4a4a4a" stroke-width="1.1" fill="#f2f2f2"/>
<rect x="814.0" y="270.5" width="16.0" height="2.5" rx="0" fill="#555"/>
<line x1="815.0" y1="271.0" x2="815.0" y2="300.0" stroke="#505050" stroke-width="0.9" fill="none"/>
<line x1="821.8" y1="271.0" x2="821.8" y2="300.0" stroke="#505050" stroke-width="0.9" fill="none"/>
<line x1="828.5" y1="271.0" x2="828.5" y2="300.0" stroke="#505050" stroke-width="0.9" fill="none"/>
<line x1="809.2" y1="280.0" x2="834.5" y2="280.0" stroke="#505050" stroke-width="0.9" fill="none"/>
<line x1="809.2" y1="290.0" x2="834.5" y2="290.0" stroke="#505050" stroke-width="0.9" fill="none"/>
<line x1="809.2" y1="294.3" x2="834.5" y2="294.3" stroke="#505050" stroke-width="0.9" fill="none"/>
<line x1="809.2" y1="302.0" x2="834.5" y2="302.0" stroke="#505050" stroke-width="0.9" fill="none"/>
<rect x="812.5" y="304.0" width="18.5" height="12.0" rx="1" stroke="#505050" stroke-width="0.9" fill="none"/>
<line x1="809.2" y1="317.0" x2="809.2" y2="332.0" stroke="#8c8c8c" stroke-width="0.6" fill="none"/>
<line x1="834.5" y1="317.0" x2="834.5" y2="332.0" stroke="#8c8c8c" stroke-width="0.6" fill="none"/>
<line x1="809.2" y1="329.6" x2="834.5" y2="329.6" stroke="#8c8c8c" stroke-width="0.6" fill="none"/>
<path d="M809.2,329.6 l3,-0.9 v1.8 z M834.5,329.6 l-3,-0.9 v1.8 z" fill="#666"/>
<text x="0.0" y="0.0" font-family="Liberation Serif" font-size="6" fill="#707070" text-anchor="middle" transform="translate(821.8 327.0) rotate(0) scale(0.8 1)">H</text>
<polygon points="917.0,327.4 930.2,311.0 942.1,307.3 948.5,306.0 961.2,298.2 968.5,290.9 987.7,285.0 992.2,287.7 997.7,289.6 999.1,296.4 1004.5,301.4 1003.2,307.3 997.7,309.2 986.7,318.3 974.0,321.9 961.2,328.3 958.5,333.8 950.3,339.3 939.3,343.8 928.4,343.8 918.4,338.3" fill="#303030"/>
<polygon points="917.0,327.4 930.2,311.0 942.1,307.3 948.5,306.0 961.2,298.2 968.5,290.9 987.7,285.0 992.2,287.7 997.7,289.6 987.0,300.0 970.0,306.0 955.0,317.0 940.0,326.0 925.0,333.0" fill="#393939" stroke="#484848" stroke-width="0.7"/>
<ellipse cx="943.0" cy="315.6" rx="12.8" ry="7.2" fill="url(#blkh)" stroke="#474747" stroke-width="0.8" transform="rotate(-8 943.0 315.6)"/>
<ellipse cx="974.9" cy="298.2" rx="11.5" ry="6.8" fill="url(#blkh)" stroke="#474747" stroke-width="0.8" transform="rotate(-8 974.9 298.2)"/>
<polygon points="952.0,307.0 961.0,301.0 967.0,305.5 958.0,312.0" fill="#262626"/>
<line x1="924.0" y1="329.0" x2="924.0" y2="340.0" stroke="#1a1a1a" stroke-width="1"/>
<line x1="992.0" y1="288.0" x2="992.0" y2="302.0" stroke="#1a1a1a" stroke-width="1"/>
<circle cx="937.0" cy="337.5" r="4.8" fill="url(#scr)"/>
<circle cx="938.8" cy="338.5" r="2.7" fill="#2a2a2a"/>
<circle cx="939.0" cy="338.8" r="1.3" fill="#777"/>
<circle cx="1000.5" cy="302.5" r="4.8" fill="url(#scr)"/>
<circle cx="1002.3" cy="303.5" r="2.7" fill="#2a2a2a"/>
<circle cx="1002.5" cy="303.8" r="1.3" fill="#777"/>
<path d="M645,377 L627.5,377.6 Q624.6,378.2 624.6,381 V390.1 H648 Z" stroke="#4a4a4a" stroke-width="1.1" fill="#f2f2f2"/>
<path d="M645,409.5 L627.5,408.9 Q624.6,408.3 624.6,405.5 V397.4 H648 Z" stroke="#4a4a4a" stroke-width="1.1" fill="#f2f2f2"/>
<path d="M742,377 L759.5,377.6 Q762.4,378.2 762.4,381 V390.1 H739 Z" stroke="#4a4a4a" stroke-width="1.1" fill="#f2f2f2"/>
<path d="M742,409.5 L759.5,408.9 Q762.4,408.3 762.4,405.5 V397.4 H739 Z" stroke="#4a4a4a" stroke-width="1.1" fill="#f2f2f2"/>
<circle cx="667.4" cy="393.5" r="25.3" fill="#f2f2f2"/>
<circle cx="719.6" cy="393.5" r="25.3" fill="#f2f2f2"/>
<rect x="686.0" y="379.0" width="15.0" height="29.0" rx="0" fill="#f2f2f2"/>
<path d="M687.9,378.6 A25.3,25.3 0 1 0 687.9,408.4" stroke="#4a4a4a" stroke-width="1.0" fill="none"/>
<path d="M699.1,408.4 A25.3,25.3 0 1 0 699.1,378.6" stroke="#4a4a4a" stroke-width="1.0" fill="none"/>
<path d="M687.9,378.6 Q693.5,381.5 699.1,378.6" stroke="#4a4a4a" stroke-width="1.0" fill="none"/>
<path d="M687.9,408.4 Q693.5,405.5 699.1,408.4" stroke="#4a4a4a" stroke-width="1.0" fill="none"/>
<circle cx="667.4" cy="393.5" r="20.0" stroke="#555" stroke-width="1" fill="none"/>
<circle cx="719.6" cy="393.5" r="20.0" stroke="#555" stroke-width="1" fill="none"/>
<path d="M687.2,380.5 Q691,383 693.5,387.5 Q696,383 699.8,380.5" fill="none" stroke="#555" stroke-width="0.9"/>
<path d="M687.2,406.5 Q691,404 693.5,399.5 Q696,404 699.8,406.5" fill="none" stroke="#555" stroke-width="0.9"/>
<line x1="624.6" y1="390.1" x2="645.0" y2="390.1" stroke="#505050" stroke-width="0.9" fill="none"/>
<line x1="624.6" y1="397.4" x2="645.0" y2="397.4" stroke="#505050" stroke-width="0.9" fill="none"/>
<line x1="742.0" y1="390.1" x2="762.4" y2="390.1" stroke="#505050" stroke-width="0.9" fill="none"/>
<line x1="742.0" y1="397.4" x2="762.4" y2="397.4" stroke="#505050" stroke-width="0.9" fill="none"/>
<rect x="630.5" y="373.3" width="11.4" height="4.5" rx="1" stroke="#4a4a4a" stroke-width="1.1" fill="#f2f2f2"/>
<rect x="745.5" y="373.3" width="11.4" height="4.5" rx="1" stroke="#4a4a4a" stroke-width="1.1" fill="#f2f2f2"/>
<rect x="627.3" y="408.3" width="17.8" height="11.9" rx="1.5" stroke="#4a4a4a" stroke-width="1.1" fill="#f2f2f2"/>
<rect x="742.0" y="408.3" width="17.8" height="11.9" rx="1.5" stroke="#4a4a4a" stroke-width="1.1" fill="#f2f2f2"/>
<line x1="631.5" y1="374.0" x2="631.5" y2="408.0" stroke="#999" stroke-width="0.6"/>
<line x1="756.0" y1="374.0" x2="756.0" y2="408.0" stroke="#999" stroke-width="0.6"/>
<line x1="640.0" y1="393.5" x2="692.0" y2="393.5" stroke="#888" stroke-width="0.6" stroke-dasharray="5 1.5 1 1.5" fill="none"/>
<line x1="695.0" y1="393.5" x2="748.0" y2="393.5" stroke="#888" stroke-width="0.6" stroke-dasharray="5 1.5 1 1.5" fill="none"/>
<line x1="667.4" y1="366.0" x2="667.4" y2="434.0" stroke="#888" stroke-width="0.6" stroke-dasharray="5 1.5 1 1.5" fill="none"/>
<line x1="719.6" y1="366.0" x2="719.6" y2="434.0" stroke="#888" stroke-width="0.6" stroke-dasharray="5 1.5 1 1.5" fill="none"/>
<line x1="636.5" y1="372.0" x2="636.5" y2="421.0" stroke="#888" stroke-width="0.6" stroke-dasharray="5 1.5 1 1.5" fill="none"/>
<line x1="751.0" y1="372.0" x2="751.0" y2="421.0" stroke="#888" stroke-width="0.6" stroke-dasharray="5 1.5 1 1.5" fill="none"/>
<line x1="649.3" y1="402.0" x2="685.5" y2="385.0" stroke="#555" stroke-width="0.55"/>
<path d="M685.5,385.0 L683.0,387.2 L682.2,385.6 Z" fill="#444"/>
<path d="M649.3,402.0 L652.6,401.4 L651.8,399.8 Z" fill="#444"/>
<text x="0.0" y="0.0" font-family="Liberation Serif" font-size="7" fill="#6a6a80" text-anchor="middle" transform="translate(663.0 391.1) rotate(-25) scale(0.8 1)">ø D</text>
<line x1="701.5" y1="402.0" x2="737.7" y2="385.0" stroke="#555" stroke-width="0.55"/>
<path d="M737.7,385.0 L735.2,387.2 L734.4,385.6 Z" fill="#444"/>
<path d="M701.5,402.0 L704.8,401.4 L704.0,399.8 Z" fill="#444"/>
<text x="0.0" y="0.0" font-family="Liberation Serif" font-size="7" fill="#6a6a80" text-anchor="middle" transform="translate(715.2 391.1) rotate(-25) scale(0.8 1)">ø D</text>
<line x1="720.0" y1="368.5" x2="789.0" y2="368.5" stroke="#8c8c8c" stroke-width="0.6" fill="none"/>
<line x1="760.0" y1="419.2" x2="789.0" y2="419.2" stroke="#8c8c8c" stroke-width="0.6" fill="none"/>
<line x1="785.8" y1="368.5" x2="785.8" y2="419.2" stroke="#8c8c8c" stroke-width="0.6" fill="none"/>
<path d="M785.8,368.5 l-0.9,3 h1.8 z M785.8,419.2 l-0.9,-3 h1.8 z" fill="#666"/>
<text x="0.0" y="0.0" font-family="Liberation Serif" font-size="7" fill="#707070" text-anchor="middle" transform="translate(780.5 394.0) rotate(90) scale(0.8 1)">H</text>
<line x1="667.4" y1="431.5" x2="719.6" y2="431.5" stroke="#8c8c8c" stroke-width="0.6" fill="none"/>
<path d="M667.4,431.5 l3,-0.9 v1.8 z M719.6,431.5 l-3,-0.9 v1.8 z" fill="#666"/>
<text x="0.0" y="0.0" font-family="Liberation Serif" font-size="8.5" fill="#707070" text-anchor="middle" transform="translate(693.2 429.0) rotate(0) scale(0.8 1)">S</text>
<line x1="624.4" y1="410.0" x2="624.4" y2="451.0" stroke="#8c8c8c" stroke-width="0.6" fill="none"/>
<line x1="761.9" y1="420.0" x2="761.9" y2="451.0" stroke="#8c8c8c" stroke-width="0.6" fill="none"/>
<line x1="624.4" y1="448.2" x2="761.9" y2="448.2" stroke="#8c8c8c" stroke-width="0.6" fill="none"/>
<path d="M624.4,448.2 l3,-0.9 v1.8 z M761.9,448.2 l-3,-0.9 v1.8 z" fill="#666"/>
<text x="0.0" y="0.0" font-family="Liberation Serif" font-size="8.5" fill="#707070" text-anchor="middle" transform="translate(693.2 445.5) rotate(0) scale(0.8 1)">L</text>
<rect x="802.6" y="368.5" width="42.9" height="51.3" rx="1" stroke="#4a4a4a" stroke-width="1.1" fill="#f2f2f2"/>
<rect x="805.0" y="371.0" width="38.0" height="46.0" rx="0" stroke="#505050" stroke-width="0.9" fill="none"/>
<path d="M806,372 Q809,386 816,387 H832 Q839,386 842,372" stroke="#505050" stroke-width="0.9" fill="none"/>
<rect x="819.0" y="373.3" width="11.0" height="1.6" rx="0" fill="#444"/>
<line x1="802.6" y1="390.1" x2="845.5" y2="390.1" stroke="#505050" stroke-width="0.9" fill="none"/>
<line x1="802.6" y1="396.8" x2="845.5" y2="396.8" stroke="#505050" stroke-width="0.9" fill="none"/>
<line x1="812.0" y1="376.0" x2="812.0" y2="417.0" stroke="#777" stroke-width="0.6"/>
<line x1="817.0" y1="376.0" x2="817.0" y2="417.0" stroke="#777" stroke-width="0.6"/>
<line x1="832.0" y1="376.0" x2="832.0" y2="417.0" stroke="#777" stroke-width="0.6"/>
<line x1="837.0" y1="376.0" x2="837.0" y2="417.0" stroke="#777" stroke-width="0.6"/>
<rect x="813.5" y="404.5" width="21.0" height="15.0" rx="2" stroke="#4a4a4a" stroke-width="1.1" fill="#f2f2f2"/>
<line x1="802.6" y1="420.0" x2="802.6" y2="435.0" stroke="#8c8c8c" stroke-width="0.6" fill="none"/>
<line x1="845.5" y1="420.0" x2="845.5" y2="435.0" stroke="#8c8c8c" stroke-width="0.6" fill="none"/>
<line x1="802.6" y1="431.9" x2="845.5" y2="431.9" stroke="#8c8c8c" stroke-width="0.6" fill="none"/>
<path d="M802.6,431.9 l3,-0.9 v1.8 z M845.5,431.9 l-3,-0.9 v1.8 z" fill="#666"/>
<text x="0.0" y="0.0" font-family="Liberation Serif" font-size="7" fill="#707070" text-anchor="middle" transform="translate(824.0 429.0) rotate(0) scale(0.8 1)">W</text>
<polygon points="984.3,385.5 1001.6,392.8 1008.0,402.8 1004.3,410.0 993.4,418.3 990.0,410.0" fill="#333"/>
<path d="M957.8,395 V429 A17.8,10 0 0 0 993.4,429 V395 Z" fill="url(#cyl)"/>
<ellipse cx="975.6" cy="395.0" rx="17.8" ry="10.0" fill="#3a3a3a" stroke="#4a4a4a" stroke-width="0.7"/>
<ellipse cx="975.6" cy="396.2" rx="14.6" ry="8.0" fill="url(#blkh)"/>
<circle cx="1003.0" cy="405.5" r="4.6" fill="url(#scr)"/>
<circle cx="1004.5" cy="406.5" r="2.4" fill="#2a2a2a"/>
<circle cx="1004.8" cy="406.7" r="1.2" fill="#777"/>
<path d="M931.9,409.6 V435 A17.3,9.6 0 0 0 966.5,435 V409.6 Z" fill="url(#cyl)"/>
<ellipse cx="949.2" cy="409.6" rx="17.3" ry="9.6" fill="#3a3a3a" stroke="#4a4a4a" stroke-width="0.7"/>
<ellipse cx="949.2" cy="410.8" rx="14.4" ry="7.7" fill="url(#blkh)"/>
<polygon points="922.3,422.8 931.4,412.8 940.0,418.0 945.0,425.0 945.0,441.0 937.8,444.7 922.3,434.7" fill="#353535"/>
<line x1="929.0" y1="416.0" x2="929.0" y2="439.0" stroke="#1a1a1a" stroke-width="1.1"/>
<circle cx="944.5" cy="437.5" r="4.8" fill="url(#scr)"/>
<circle cx="946.0" cy="438.5" r="2.5" fill="#2a2a2a"/>
<circle cx="946.3" cy="438.7" r="1.2" fill="#777"/>
<circle cx="664.2" cy="636.3" r="35.5" stroke="#0a0a0a" stroke-width="13.2" fill="#f4f4f4"/>
<circle cx="664.2" cy="636.3" r="29.6" stroke="#666" stroke-width="1.3" fill="none" stroke-dasharray="0.8 0.8"/>
<rect x="688.0" y="632.3" width="22.0" height="8.5" rx="0" fill="#f2f2f2"/>
<line x1="691.6" y1="632.3" x2="731.7" y2="632.3" stroke="#777" stroke-width="0.7"/>
<line x1="691.6" y1="640.8" x2="731.7" y2="640.8" stroke="#777" stroke-width="0.7"/>
<line x1="725.4" y1="611.0" x2="725.4" y2="658.1" stroke="#666" stroke-width="0.7"/>
<path d="M725.4,632.3 l-1.1,-4.5 h2.2 z M725.4,640.8 l-1.1,4.5 h2.2 z" fill="#222"/>
<line x1="640.0" y1="636.3" x2="663.0" y2="636.3" stroke="#777" stroke-width="0.6"/>
<line x1="666.0" y1="636.3" x2="683.0" y2="636.3" stroke="#888" stroke-width="0.6" stroke-dasharray="6 2 2 2"/>
<line x1="664.2" y1="613.0" x2="664.2" y2="661.0" stroke="#666" stroke-width="0.6"/>
<line x1="639.5" y1="649.0" x2="688.1" y2="625.0" stroke="#333" stroke-width="0.6"/>
<path d="M639.5,649 l4.3,-3.2 l0.9,1.8 z M688.1,625 l-4.3,3.2 l-0.9,-1.8 z" fill="#222"/>
<text x="0.0" y="0.0" font-family="Liberation Serif" font-size="16" fill="#3a4058" text-anchor="middle" transform="translate(656.5 628.0) rotate(-22) scale(0.8 1)">ø d</text>
<text x="0.0" y="0.0" font-family="Liberation Serif" font-size="13" fill="#444" text-anchor="middle" transform="translate(718.0 615.0) rotate(-90) scale(0.85 1)">3</text>
<g clip-path="url(#kclip)"><g clip-path="url(#kcirc)">
<circle cx="782.4" cy="636.5" r="41.9" fill="#222"/>
<line x1="753.8" y1="590.0" x2="753.8" y2="685.0" stroke="#d0d0d0" stroke-width="0.8"/>
<line x1="757.5" y1="590.0" x2="757.5" y2="685.0" stroke="#d0d0d0" stroke-width="0.8"/>
<line x1="761.2" y1="590.0" x2="761.2" y2="685.0" stroke="#d0d0d0" stroke-width="0.8"/>
<line x1="765.0" y1="590.0" x2="765.0" y2="685.0" stroke="#d0d0d0" stroke-width="0.8"/>
<line x1="768.7" y1="590.0" x2="768.7" y2="685.0" stroke="#d0d0d0" stroke-width="0.8"/>
<line x1="772.4" y1="590.0" x2="772.4" y2="685.0" stroke="#d0d0d0" stroke-width="0.8"/>
<line x1="776.1" y1="590.0" x2="776.1" y2="685.0" stroke="#d0d0d0" stroke-width="0.8"/>
<line x1="779.8" y1="590.0" x2="779.8" y2="685.0" stroke="#d0d0d0" stroke-width="0.8"/>
<line x1="783.6" y1="590.0" x2="783.6" y2="685.0" stroke="#d0d0d0" stroke-width="0.8"/>
<line x1="787.3" y1="590.0" x2="787.3" y2="685.0" stroke="#d0d0d0" stroke-width="0.8"/>
<line x1="791.0" y1="590.0" x2="791.0" y2="685.0" stroke="#d0d0d0" stroke-width="0.8"/>
<line x1="794.7" y1="590.0" x2="794.7" y2="685.0" stroke="#d0d0d0" stroke-width="0.8"/>
<line x1="798.4" y1="590.0" x2="798.4" y2="685.0" stroke="#d0d0d0" stroke-width="0.8"/>
<line x1="802.2" y1="590.0" x2="802.2" y2="685.0" stroke="#d0d0d0" stroke-width="0.8"/>
<line x1="805.9" y1="590.0" x2="805.9" y2="685.0" stroke="#d0d0d0" stroke-width="0.8"/>
<line x1="809.6" y1="590.0" x2="809.6" y2="685.0" stroke="#d0d0d0" stroke-width="0.8"/>
</g></g>
<path d="M811.8,607 A41.9,41.9 0 0 1 811.8,666" stroke="#555" stroke-width="0.6" fill="none"/>
<path d="M749.5,662.5 A41.9,41.9 0 0 0 752.5,667" stroke="#555" stroke-width="0.6" fill="none"/>
<line x1="749.0" y1="664.5" x2="811.8" y2="607.4" stroke="#333" stroke-width="0.7"/>
<line x1="811.8" y1="606.6" x2="844.7" y2="606.6" stroke="#8c8c8c" stroke-width="0.6" fill="none"/>
<text x="0.0" y="0.0" font-family="Liberation Serif" font-size="12" fill="#555" text-anchor="middle" transform="translate(832.5 602.0) rotate(0) scale(0.75 1)">S ø D</text>
<line x1="752.5" y1="666.0" x2="752.5" y2="708.0" stroke="#8c8c8c" stroke-width="0.6" fill="none"/>
<line x1="811.8" y1="666.0" x2="811.8" y2="708.0" stroke="#8c8c8c" stroke-width="0.6" fill="none"/>
<line x1="752.5" y1="702.2" x2="811.8" y2="702.2" stroke="#8c8c8c" stroke-width="0.6" fill="none"/>
<path d="M752.5,702.2 l3,-0.9 v1.8 z M811.8,702.2 l-3,-0.9 v1.8 z" fill="#666"/>
<text x="0.0" y="0.0" font-family="Liberation Serif" font-size="14" fill="#555" text-anchor="middle" transform="translate(782.4 696.0) rotate(0) scale(0.75 1)">20</text>
<g clip-path="url(#ballclip)">
<circle cx="966.0" cy="645.0" r="43.5" fill="#e2e2e2"/>
<path d="M959.5,681.5 L958.9,681.8 L958.3,682.1 L957.7,682.4 L957.1,682.6 L956.4,682.9 L955.7,683.0 L955.0,683.2 L954.3,683.3 L953.6,683.4 L952.9,683.4 L952.2,683.4 L951.4,683.4 L950.7,683.3 L949.9,683.3 L949.2,683.1 L948.4,683.0 L947.7,682.8 L946.9,682.6 L946.1,682.4 L945.4,682.1 L944.6,681.8 L943.8,681.5 L943.1,681.1 L942.3,680.7 L941.5,680.3 L940.8,679.8 L940.0,679.3 L939.3,678.8 L938.5,678.3 L937.8,677.8 L937.1,677.2 L936.4,676.6 L935.7,675.9 L935.0,675.3 L934.3,674.6 L933.7,673.9 L933.0,673.2 L932.4,672.5 L931.8,671.7 L931.2,670.9 L930.6,670.1 L930.0,669.3 L929.5,668.5 L928.9,667.7 L928.4,666.8 L927.9,666.0 L927.5,665.1 L927.0,664.2 L926.6,663.3 L926.2,662.4 L925.8,661.5 L925.5,660.6 L925.2,659.7 L924.9,658.8 L924.6,657.8 L924.3,656.9 L924.1,656.0 L923.9,655.1 L923.7,654.2 L923.6,653.2 L923.5,652.3 L923.4,651.4 L923.3,650.5 L923.2,649.6 L923.2,648.8 L923.2,647.9 L923.3,647.0 L923.3,646.2 L923.4,645.4 L923.6,644.5 L923.7,643.7 L923.9,642.9 L924.1,642.2 L924.3,641.4 L924.5,640.7 L924.8,640.0 L925.1,639.3 L925.4,638.6 L925.8,638.0 L926.2,637.3 L926.6,636.7 L927.0,636.2 L927.4,635.6 L927.9,635.1 L928.4,634.6 L928.9,634.1 L929.4,633.7 L929.9,633.2 L930.5,632.9 L931.1,632.5 L931.7,632.2 L932.3,631.9 L932.9,631.6 L933.6,631.4 L934.2,631.2 L934.9,631.0 L935.6,630.9 L936.3,630.7 L937.0,630.7 L937.7,630.6 L938.4,630.6 L939.2,630.6 L939.9,630.7 L940.7,630.8 L941.4,630.9 L942.2,631.0 L943.0,631.2 L943.7,631.4 L944.5,631.7 L945.3,631.9 L946.0,632.2 L946.8,632.6 L947.6,632.9 L948.3,633.3 L949.1,633.7 L949.9,634.2 L950.6,634.7 L951.4,635.2 L952.1,635.7 L952.8,636.3 L953.5,636.8 L954.3,637.5 L955.0,638.1 L955.6,638.7 L956.3,639.4 L957.0,640.1 L957.6,640.8 L958.3,641.6 L958.9,642.3 L959.5,643.1 L960.1,643.9 L960.6,644.7 L961.2,645.5 L961.7,646.4 L962.2,647.2 L962.7,648.1 L963.1,648.9 L963.6,649.8 L964.0,650.7 L964.4,651.6 L964.8,652.5 L965.1,653.4 L965.5,654.3 L965.8,655.3 L966.0,656.2 L966.3,657.1 L966.5,658.0 L966.7,658.9 L966.9,659.9 L967.1,660.8 L967.2,661.7 L967.3,662.6 L967.3,663.5 L967.4,664.4 L967.4,665.3 L967.4,666.1 L967.3,667.0 L967.3,667.8 L967.2,668.7 L967.1,669.5 L966.9,670.3 L966.7,671.1 L966.6,671.8 L966.3,672.6 L966.1,673.3 L965.8,674.0 L965.5,674.7 L965.2,675.4 L964.8,676.1 L964.5,676.7 L964.1,677.3 L963.6,677.9 L963.2,678.4 L962.7,678.9 L962.3,679.4 L961.8,679.9 L961.2,680.4 L960.7,680.8 L960.1,681.2 L959.5,681.5" fill="none" stroke="#9e9e9e" stroke-width="1.05"/>
<path d="M963.0,683.2 L962.3,683.5 L961.7,683.9 L961.0,684.1 L960.2,684.4 L959.5,684.6 L958.8,684.8 L958.0,685.0 L957.2,685.1 L956.4,685.2 L955.6,685.2 L954.8,685.3 L954.0,685.2 L953.2,685.2 L952.3,685.1 L951.5,685.0 L950.7,684.8 L949.8,684.6 L949.0,684.4 L948.1,684.1 L947.2,683.8 L946.4,683.5 L945.5,683.1 L944.7,682.7 L943.8,682.2 L943.0,681.8 L942.1,681.3 L941.3,680.7 L940.5,680.2 L939.7,679.6 L938.8,679.0 L938.0,678.3 L937.3,677.7" fill="none" stroke="#9e9e9e" stroke-width="1.05"/>
<path d="M923.4,653.8 L923.2,652.7 L923.0,651.7 L922.9,650.7 L922.8,649.7 L922.7,648.7 L922.7,647.7 L922.7,646.8 L922.7,645.8 L922.7,644.8 L922.8,643.9 L922.9,643.0 L923.0,642.1 L923.2,641.2 L923.4,640.3 L923.6,639.4 L923.8,638.6 L924.1,637.8 L924.4,637.0 L924.8,636.2 L925.1,635.5 L925.5,634.7 L925.9,634.0 L926.4,633.4 L926.8,632.7 L927.3,632.1 L927.8,631.5 L928.4,631.0 L928.9,630.5 L929.5,630.0 L930.1,629.5 L930.7,629.1 L931.4,628.7 L932.0,628.3 L932.7,628.0 L933.4,627.7 L934.1,627.4 L934.9,627.2 L935.6,627.0 L936.4,626.8 L937.2,626.7 L938.0,626.6 L938.8,626.6 L939.6,626.6 L940.4,626.6 L941.2,626.7 L942.0,626.8 L942.9,626.9 L943.7,627.0 L944.6,627.2 L945.4,627.5 L946.3,627.7 L947.1,628.0 L948.0,628.4 L948.9,628.8 L949.7,629.2 L950.6,629.6 L951.4,630.1 L952.2,630.6 L953.1,631.1 L953.9,631.7 L954.7,632.2 L955.5,632.9 L956.3,633.5 L957.1,634.2 L957.9,634.9 L958.7,635.6 L959.4,636.4 L960.2,637.1 L960.9,637.9 L961.6,638.8 L962.3,639.6 L962.9,640.5 L963.6,641.3 L964.2,642.2 L964.8,643.1 L965.4,644.1 L966.0,645.0 L966.5,646.0 L967.0,647.0 L967.5,647.9 L968.0,648.9 L968.4,649.9 L968.8,650.9 L969.2,651.9 L969.6,653.0 L969.9,654.0 L970.2,655.0 L970.5,656.0 L970.8,657.0 L971.0,658.1 L971.2,659.1 L971.4,660.1 L971.5,661.1 L971.6,662.1 L971.7,663.1 L971.7,664.1 L971.7,665.1 L971.7,666.1 L971.7,667.0 L971.6,667.9 L971.5,668.9 L971.4,669.8 L971.2,670.7 L971.0,671.6 L970.8,672.4 L970.6,673.2 L970.3,674.1 L970.0,674.9 L969.6,675.6 L969.3,676.4 L968.9,677.1 L968.5,677.8 L968.0,678.5 L967.6,679.1 L967.1,679.7 L966.6,680.3 L966.0,680.9 L965.5,681.4 L964.9,681.9 L964.3,682.3 L963.7,682.8 L963.0,683.2" fill="none" stroke="#9e9e9e" stroke-width="1.05"/>
<path d="M966.2,684.3 L965.5,684.7 L964.7,685.1 L964.0,685.4 L963.2,685.7 L962.4,685.9 L961.6,686.1 L960.8,686.3 L959.9,686.4 L959.1,686.5 L958.2,686.6 L957.3,686.6 L956.5,686.6 L955.6,686.5 L954.7,686.4 L953.7,686.3 L952.8,686.1 L951.9,685.9 L951.0,685.6 L950.1,685.3 L949.1,685.0 L948.2,684.6 L947.3,684.2 L946.4,683.8 L945.4,683.3" fill="none" stroke="#9e9e9e" stroke-width="1.05"/>
<path d="M922.5,643.9 L922.6,642.8 L922.6,641.8 L922.8,640.8 L922.9,639.8 L923.1,638.8 L923.3,637.9 L923.5,637.0 L923.8,636.1 L924.1,635.2 L924.4,634.3 L924.8,633.5 L925.2,632.7 L925.6,631.9 L926.0,631.1 L926.5,630.4 L927.0,629.7 L927.5,629.1 L928.1,628.4 L928.7,627.8 L929.3,627.3 L929.9,626.7 L930.6,626.2 L931.3,625.8 L932.0,625.3 L932.7,624.9 L933.4,624.6 L934.2,624.3 L934.9,624.0 L935.7,623.7 L936.5,623.5 L937.4,623.4 L938.2,623.2 L939.1,623.1 L939.9,623.1 L940.8,623.1 L941.7,623.1 L942.6,623.1 L943.5,623.2 L944.4,623.4 L945.3,623.6 L946.2,623.8 L947.2,624.0 L948.1,624.3 L949.0,624.6 L949.9,625.0 L950.9,625.4 L951.8,625.9 L952.7,626.3 L953.6,626.8 L954.5,627.4 L955.4,627.9 L956.3,628.6 L957.2,629.2 L958.1,629.9 L959.0,630.6 L959.8,631.3 L960.7,632.1 L961.5,632.8 L962.3,633.7 L963.1,634.5 L963.9,635.4 L964.6,636.2 L965.4,637.2 L966.1,638.1 L966.8,639.0 L967.5,640.0 L968.1,641.0 L968.8,642.0 L969.4,643.0 L970.0,644.1 L970.5,645.1 L971.1,646.2 L971.6,647.2 L972.1,648.3 L972.5,649.4 L972.9,650.5 L973.3,651.6 L973.7,652.7 L974.0,653.8 L974.3,654.9 L974.6,656.0 L974.8,657.2 L975.1,658.3 L975.2,659.4 L975.4,660.5 L975.5,661.5 L975.6,662.6 L975.6,663.7 L975.6,664.7 L975.6,665.8 L975.6,666.8 L975.5,667.8 L975.4,668.9 L975.3,669.8 L975.1,670.8 L974.9,671.8 L974.6,672.7 L974.4,673.6 L974.1,674.5 L973.7,675.3 L973.4,676.2 L973.0,677.0 L972.6,677.8 L972.1,678.5 L971.6,679.2 L971.1,679.9 L970.6,680.6 L970.0,681.2 L969.5,681.8 L968.9,682.4 L968.2,682.9 L967.6,683.4 L966.9,683.9 L966.2,684.3" fill="none" stroke="#9e9e9e" stroke-width="1.05"/>
<path d="M969.2,685.1 L968.4,685.5 L967.6,685.9 L966.8,686.3 L966.0,686.6 L965.1,686.8 L964.3,687.0 L963.4,687.2 L962.5,687.4 L961.6,687.5 L960.7,687.5 L959.7,687.5 L958.8,687.5 L957.9,687.4 L956.9,687.3 L955.9,687.2 L954.9,687.0 L954.0,686.8 L953.0,686.5 L952.0,686.2" fill="none" stroke="#9e9e9e" stroke-width="1.05"/>
<path d="M923.3,636.7 L923.5,635.7 L923.8,634.7 L924.1,633.8 L924.4,632.8 L924.7,631.9 L925.1,631.0 L925.5,630.2 L926.0,629.3 L926.4,628.5 L927.0,627.8 L927.5,627.0 L928.1,626.3 L928.6,625.7 L929.3,625.0 L929.9,624.4 L930.6,623.8 L931.3,623.3 L932.0,622.8 L932.7,622.4 L933.5,621.9 L934.3,621.6 L935.1,621.2 L935.9,620.9 L936.8,620.7 L937.6,620.4 L938.5,620.3 L939.4,620.1 L940.3,620.0 L941.2,620.0 L942.2,619.9 L943.1,620.0 L944.1,620.0 L945.0,620.1 L946.0,620.3 L947.0,620.5 L947.9,620.7 L948.9,621.0 L949.9,621.3 L950.9,621.6 L951.9,622.0 L952.9,622.4 L953.8,622.9 L954.8,623.4 L955.8,624.0 L956.8,624.5 L957.7,625.1 L958.7,625.8 L959.6,626.5 L960.6,627.2 L961.5,627.9 L962.4,628.7 L963.3,629.5 L964.2,630.3 L965.0,631.2 L965.9,632.1 L966.7,633.0 L967.5,634.0 L968.3,634.9 L969.1,635.9 L969.8,636.9 L970.5,638.0 L971.2,639.0 L971.9,640.1 L972.6,641.2 L973.2,642.3 L973.8,643.4 L974.4,644.5 L974.9,645.7 L975.4,646.8 L975.9,648.0 L976.3,649.1 L976.8,650.3 L977.1,651.5 L977.5,652.7 L977.8,653.9 L978.1,655.0 L978.4,656.2 L978.6,657.4 L978.8,658.6 L978.9,659.7 L979.1,660.9 L979.1,662.0 L979.2,663.2 L979.2,664.3 L979.2,665.4 L979.2,666.5 L979.1,667.6 L979.0,668.7 L978.8,669.7 L978.6,670.7 L978.4,671.7 L978.1,672.7 L977.9,673.7 L977.5,674.6 L977.2,675.5 L976.8,676.4 L976.4,677.3 L975.9,678.1 L975.5,678.9 L975.0,679.7 L974.4,680.4 L973.9,681.1 L973.3,681.8 L972.6,682.5 L972.0,683.1 L971.3,683.6 L970.6,684.2 L969.9,684.7 L969.2,685.1" fill="none" stroke="#9e9e9e" stroke-width="1.05"/>
<path d="M972.0,685.6 L971.2,686.0 L970.3,686.4 L969.5,686.8 L968.6,687.1 L967.7,687.4 L966.8,687.6 L965.9,687.8 L965.0,687.9 L964.0,688.0 L963.0,688.1 L962.1,688.1 L961.1,688.1 L960.1,688.0 L959.1,687.9 L958.1,687.8" fill="none" stroke="#9e9e9e" stroke-width="1.05"/>
<path d="M924.9,630.7 L925.3,629.7 L925.7,628.8 L926.1,627.9 L926.6,627.0 L927.1,626.2 L927.6,625.4 L928.2,624.6 L928.8,623.9 L929.4,623.2 L930.1,622.5 L930.7,621.9 L931.4,621.3 L932.2,620.7 L932.9,620.2 L933.7,619.7 L934.5,619.3 L935.3,618.9 L936.2,618.5 L937.1,618.2 L937.9,617.9 L938.8,617.7 L939.8,617.5 L940.7,617.3 L941.7,617.2 L942.6,617.2 L943.6,617.2 L944.6,617.2 L945.6,617.3 L946.6,617.4 L947.6,617.5 L948.6,617.7 L949.7,618.0 L950.7,618.2 L951.7,618.6 L952.8,618.9 L953.8,619.3 L954.8,619.8 L955.9,620.3 L956.9,620.8 L957.9,621.4 L958.9,622.0 L960.0,622.6 L961.0,623.3 L961.9,624.0 L962.9,624.8 L963.9,625.5 L964.8,626.4 L965.8,627.2 L966.7,628.1 L967.6,629.0 L968.5,629.9 L969.4,630.9 L970.2,631.9 L971.1,632.9 L971.9,633.9 L972.6,635.0 L973.4,636.1 L974.1,637.2 L974.8,638.3 L975.5,639.5 L976.2,640.6 L976.8,641.8 L977.4,643.0 L978.0,644.2 L978.5,645.4 L979.0,646.6 L979.5,647.8 L979.9,649.1 L980.3,650.3 L980.7,651.5 L981.0,652.8 L981.3,654.0 L981.6,655.2 L981.9,656.5 L982.1,657.7 L982.2,658.9 L982.3,660.1 L982.4,661.3 L982.5,662.5 L982.5,663.7 L982.5,664.9 L982.4,666.1 L982.4,667.2 L982.2,668.3 L982.1,669.4 L981.9,670.5 L981.6,671.6 L981.4,672.6 L981.1,673.6 L980.7,674.6 L980.4,675.5 L980.0,676.5 L979.5,677.4 L979.1,678.3 L978.6,679.1 L978.0,679.9 L977.5,680.7 L976.9,681.4 L976.3,682.1 L975.6,682.8 L974.9,683.4 L974.2,684.0 L973.5,684.6 L972.7,685.1 L972.0,685.6" fill="none" stroke="#9e9e9e" stroke-width="1.05"/>
<path d="M974.6,685.8 L973.8,686.3 L972.9,686.7 L972.0,687.0 L971.1,687.4 L970.2,687.7 L969.3,687.9 L968.3,688.1 L967.3,688.2 L966.3,688.4 L965.3,688.4 L964.3,688.4 L963.3,688.4" fill="none" stroke="#9e9e9e" stroke-width="1.05"/>
<path d="M927.0,625.8 L927.4,624.9 L928.0,624.1 L928.5,623.2 L929.1,622.4 L929.7,621.6 L930.4,620.9 L931.0,620.2 L931.7,619.5 L932.5,618.9 L933.2,618.3 L934.0,617.8 L934.8,617.3 L935.7,616.8 L936.5,616.4 L937.4,616.1 L938.3,615.7 L939.2,615.4 L940.2,615.2 L941.1,615.0 L942.1,614.9 L943.1,614.7 L944.1,614.7 L945.1,614.7 L946.1,614.7 L947.2,614.8 L948.2,614.9 L949.3,615.0 L950.4,615.2 L951.4,615.5 L952.5,615.8 L953.6,616.1 L954.7,616.5 L955.7,616.9 L956.8,617.4 L957.9,617.9 L958.9,618.5 L960.0,619.0 L961.1,619.7 L962.1,620.3 L963.2,621.0 L964.2,621.8 L965.2,622.6 L966.2,623.4 L967.2,624.2 L968.2,625.1 L969.1,626.0 L970.1,627.0 L971.0,627.9 L971.9,628.9 L972.8,630.0 L973.7,631.0 L974.5,632.1 L975.3,633.2 L976.1,634.3 L976.9,635.5 L977.6,636.7 L978.3,637.9 L979.0,639.1 L979.6,640.3 L980.3,641.5 L980.8,642.8 L981.4,644.0 L981.9,645.3 L982.4,646.5 L982.9,647.8 L983.3,649.1 L983.7,650.4 L984.0,651.7 L984.4,653.0 L984.6,654.3 L984.9,655.5 L985.1,656.8 L985.3,658.1 L985.4,659.3 L985.5,660.6 L985.5,661.8 L985.6,663.1 L985.6,664.3 L985.5,665.5 L985.4,666.7 L985.3,667.8 L985.1,669.0 L984.9,670.1 L984.7,671.2 L984.4,672.3 L984.1,673.3 L983.7,674.4 L983.3,675.4 L982.9,676.3 L982.5,677.3 L982.0,678.2 L981.5,679.0 L980.9,679.9 L980.3,680.7 L979.7,681.5 L979.1,682.2 L978.4,682.9 L977.7,683.6 L977.0,684.2 L976.2,684.8 L975.4,685.3 L974.6,685.8" fill="none" stroke="#9e9e9e" stroke-width="1.05"/>
<path d="M977.1,685.8 L976.2,686.2 L975.4,686.7 L974.4,687.1 L973.5,687.4 L972.6,687.7 L971.6,687.9 L970.6,688.1 L969.6,688.3 L968.6,688.4 L967.5,688.5" fill="none" stroke="#9e9e9e" stroke-width="1.05"/>
<path d="M929.0,622.1 L929.6,621.2 L930.2,620.4 L930.8,619.6 L931.5,618.9 L932.2,618.1 L932.9,617.5 L933.7,616.8 L934.4,616.2 L935.3,615.7 L936.1,615.1 L937.0,614.7 L937.8,614.2 L938.8,613.9 L939.7,613.5 L940.6,613.2 L941.6,613.0 L942.6,612.8 L943.6,612.6 L944.6,612.5 L945.7,612.4 L946.7,612.4 L947.8,612.5 L948.8,612.5 L949.9,612.6 L951.0,612.8 L952.1,613.0 L953.2,613.3 L954.3,613.6 L955.4,613.9 L956.5,614.3 L957.6,614.8 L958.7,615.2 L959.9,615.8 L961.0,616.3 L962.1,616.9 L963.1,617.6 L964.2,618.3 L965.3,619.0 L966.4,619.8 L967.4,620.6 L968.5,621.4 L969.5,622.3 L970.5,623.2 L971.5,624.1 L972.4,625.1 L973.4,626.1 L974.3,627.2 L975.2,628.2 L976.1,629.3 L977.0,630.4 L977.8,631.6 L978.6,632.7 L979.4,633.9 L980.2,635.1 L980.9,636.3 L981.6,637.6 L982.3,638.8 L982.9,640.1 L983.5,641.4 L984.1,642.7 L984.7,644.0 L985.2,645.3 L985.6,646.6 L986.1,647.9 L986.5,649.3 L986.8,650.6 L987.2,651.9 L987.4,653.2 L987.7,654.6 L987.9,655.9 L988.1,657.2 L988.2,658.5 L988.3,659.8 L988.4,661.1 L988.4,662.3 L988.4,663.6 L988.3,664.8 L988.2,666.1 L988.1,667.3 L987.9,668.4 L987.7,669.6 L987.5,670.7 L987.2,671.8 L986.9,672.9 L986.5,674.0 L986.1,675.0 L985.7,676.0 L985.2,677.0 L984.7,677.9 L984.2,678.8 L983.6,679.7 L983.0,680.5 L982.4,681.3 L981.7,682.1 L981.0,682.8 L980.3,683.5 L979.5,684.1 L978.7,684.7 L977.9,685.3 L977.1,685.8" fill="none" stroke="#9e9e9e" stroke-width="1.05"/>
<path d="M979.5,685.5 L978.6,686.0 L977.7,686.4 L976.8,686.8 L975.8,687.2 L974.8,687.5 L973.8,687.7 L972.8,688.0" fill="none" stroke="#9e9e9e" stroke-width="1.05"/>
<path d="M932.1,617.8 L932.8,617.0 L933.5,616.3 L934.2,615.6 L935.0,614.9 L935.8,614.3 L936.6,613.7 L937.5,613.2 L938.4,612.7 L939.3,612.3 L940.2,611.9 L941.2,611.5 L942.1,611.2 L943.1,611.0 L944.1,610.8 L945.2,610.6 L946.2,610.5 L947.3,610.4 L948.3,610.4 L949.4,610.5 L950.5,610.5 L951.6,610.7 L952.8,610.8 L953.9,611.0 L955.0,611.3 L956.1,611.6 L957.3,612.0 L958.4,612.4 L959.5,612.8 L960.7,613.3 L961.8,613.8 L962.9,614.4 L964.1,615.0 L965.2,615.7 L966.3,616.4 L967.4,617.2 L968.5,617.9 L969.6,618.8 L970.6,619.6 L971.7,620.5 L972.7,621.4 L973.7,622.4 L974.7,623.4 L975.7,624.4 L976.6,625.5 L977.6,626.6 L978.5,627.7 L979.4,628.8 L980.2,630.0 L981.1,631.2 L981.9,632.4 L982.6,633.7 L983.4,634.9 L984.1,636.2 L984.8,637.5 L985.4,638.8 L986.1,640.1 L986.7,641.4 L987.2,642.7 L987.7,644.1 L988.2,645.4 L988.7,646.8 L989.1,648.1 L989.4,649.5 L989.8,650.9 L990.1,652.2 L990.3,653.6 L990.5,654.9 L990.7,656.3 L990.9,657.6 L991.0,658.9 L991.0,660.2 L991.1,661.5 L991.0,662.8 L991.0,664.1 L990.9,665.3 L990.7,666.6 L990.6,667.8 L990.4,669.0 L990.1,670.1 L989.8,671.3 L989.5,672.4 L989.1,673.5 L988.7,674.5 L988.3,675.5 L987.8,676.5 L987.3,677.5 L986.7,678.4 L986.1,679.3 L985.5,680.1 L984.9,681.0 L984.2,681.7 L983.5,682.5 L982.7,683.2 L982.0,683.8 L981.2,684.4 L980.3,685.0 L979.5,685.5" fill="none" stroke="#9e9e9e" stroke-width="1.05"/>
<path d="M981.7,685.1 L980.8,685.6 L979.9,686.0 L979.0,686.4 L978.0,686.8 L977.0,687.1" fill="none" stroke="#9e9e9e" stroke-width="1.05"/>
<path d="M934.9,614.6 L935.7,613.9 L936.5,613.2 L937.3,612.6 L938.1,612.0 L939.0,611.5 L939.9,611.0 L940.8,610.5 L941.8,610.1 L942.7,609.8 L943.7,609.5 L944.7,609.2 L945.8,609.0 L946.8,608.8 L947.9,608.7 L949.0,608.7 L950.0,608.6 L951.2,608.7 L952.3,608.7 L953.4,608.9 L954.5,609.0 L955.7,609.3 L956.8,609.5 L958.0,609.8 L959.1,610.2 L960.3,610.6 L961.4,611.1 L962.6,611.6 L963.8,612.1 L964.9,612.7 L966.0,613.3 L967.2,614.0 L968.3,614.7 L969.4,615.5 L970.5,616.3 L971.6,617.1 L972.7,618.0 L973.8,618.9 L974.8,619.9 L975.9,620.8 L976.9,621.9 L977.9,622.9 L978.8,624.0 L979.8,625.1 L980.7,626.2 L981.6,627.4 L982.5,628.6 L983.3,629.8 L984.2,631.0 L985.0,632.3 L985.7,633.6 L986.4,634.8 L987.1,636.2 L987.8,637.5 L988.4,638.8 L989.0,640.2 L989.6,641.5 L990.1,642.9 L990.6,644.3 L991.1,645.6 L991.5,647.0 L991.9,648.4 L992.2,649.8 L992.5,651.2 L992.8,652.6 L993.0,653.9 L993.2,655.3 L993.3,656.7 L993.4,658.0 L993.5,659.3 L993.5,660.7 L993.5,662.0 L993.4,663.3 L993.3,664.5 L993.2,665.8 L993.0,667.0 L992.8,668.2 L992.5,669.4 L992.3,670.6 L991.9,671.7 L991.5,672.8 L991.1,673.9 L990.7,674.9 L990.2,675.9 L989.7,676.9 L989.1,677.8 L988.5,678.7 L987.9,679.6 L987.2,680.4 L986.5,681.2 L985.8,682.0 L985.0,682.7 L984.3,683.3 L983.4,684.0 L982.6,684.5 L981.7,685.1" fill="none" stroke="#9e9e9e" stroke-width="1.05"/>
<path d="M983.9,684.4 L983.0,684.9 L982.0,685.4 L981.1,685.8" fill="none" stroke="#9e9e9e" stroke-width="1.05"/>
<path d="M938.0,611.7 L938.9,611.1 L939.7,610.5 L940.6,609.9 L941.5,609.4 L942.5,609.0 L943.4,608.6 L944.4,608.2 L945.4,607.9 L946.4,607.6 L947.5,607.4 L948.5,607.3 L949.6,607.1 L950.7,607.1 L951.8,607.1 L952.9,607.1 L954.0,607.2 L955.2,607.3 L956.3,607.5 L957.5,607.7 L958.7,608.0 L959.8,608.3 L961.0,608.6 L962.2,609.1 L963.3,609.5 L964.5,610.0 L965.7,610.6 L966.8,611.2 L968.0,611.8 L969.1,612.5 L970.3,613.2 L971.4,614.0 L972.5,614.8 L973.7,615.6 L974.7,616.5 L975.8,617.5 L976.9,618.4 L977.9,619.4 L979.0,620.4 L980.0,621.5 L980.9,622.6 L981.9,623.7 L982.8,624.9 L983.8,626.0 L984.6,627.2 L985.5,628.5 L986.3,629.7 L987.1,631.0 L987.9,632.3 L988.6,633.6 L989.4,634.9 L990.0,636.3 L990.7,637.6 L991.3,639.0 L991.8,640.4 L992.4,641.7 L992.9,643.1 L993.3,644.5 L993.8,645.9 L994.1,647.3 L994.5,648.7 L994.8,650.1 L995.1,651.5 L995.3,652.9 L995.5,654.3 L995.6,655.7 L995.7,657.0 L995.8,658.4 L995.8,659.7 L995.8,661.0 L995.7,662.3 L995.6,663.6 L995.5,664.9 L995.3,666.1 L995.1,667.4 L994.8,668.6 L994.5,669.7 L994.2,670.9 L993.8,672.0 L993.4,673.1 L992.9,674.1 L992.4,675.2 L991.9,676.1 L991.3,677.1 L990.7,678.0 L990.1,678.9 L989.4,679.7 L988.7,680.5 L988.0,681.3 L987.2,682.0 L986.4,682.7 L985.6,683.3 L984.8,683.9 L983.9,684.4" fill="none" stroke="#9e9e9e" stroke-width="1.05"/>
<path d="M985.9,683.6 L985.0,684.1" fill="none" stroke="#9e9e9e" stroke-width="1.05"/>
<path d="M941.4,609.1 L942.3,608.6 L943.2,608.1 L944.2,607.6 L945.2,607.2 L946.1,606.8 L947.2,606.5 L948.2,606.3 L949.2,606.0 L950.3,605.9 L951.4,605.8 L952.5,605.7 L953.6,605.7 L954.7,605.7 L955.9,605.8 L957.0,605.9 L958.2,606.1 L959.3,606.3 L960.5,606.6 L961.7,606.9 L962.9,607.3 L964.0,607.7 L965.2,608.2 L966.4,608.7 L967.6,609.2 L968.8,609.8 L969.9,610.5 L971.1,611.2 L972.2,611.9 L973.4,612.7 L974.5,613.5 L975.6,614.3 L976.7,615.2 L977.8,616.1 L978.9,617.1 L979.9,618.1 L981.0,619.2 L982.0,620.2 L983.0,621.3 L983.9,622.4 L984.9,623.6 L985.8,624.8 L986.7,626.0 L987.6,627.2 L988.4,628.5 L989.2,629.8 L990.0,631.1 L990.7,632.4 L991.4,633.7 L992.1,635.1 L992.8,636.5 L993.4,637.8 L993.9,639.2 L994.5,640.6 L995.0,642.0 L995.4,643.4 L995.9,644.8 L996.3,646.2 L996.6,647.6 L996.9,649.1 L997.2,650.5 L997.4,651.9 L997.6,653.3 L997.7,654.6 L997.8,656.0 L997.9,657.4 L997.9,658.7 L997.9,660.1 L997.9,661.4 L997.8,662.7 L997.6,663.9 L997.4,665.2 L997.2,666.4 L996.9,667.6 L996.6,668.8 L996.3,670.0 L995.9,671.1 L995.5,672.2 L995.0,673.2 L994.5,674.3 L994.0,675.3 L993.4,676.2 L992.8,677.1 L992.2,678.0 L991.5,678.9 L990.8,679.7 L990.1,680.4 L989.3,681.2 L988.5,681.8 L987.7,682.5 L986.8,683.1 L985.9,683.6" fill="none" stroke="#9e9e9e" stroke-width="1.05"/>
<path d="M945.1,606.9 L946.0,606.4 L947.0,606.0 L948.0,605.7 L949.0,605.3 L950.0,605.1 L951.1,604.9 L952.1,604.7 L953.2,604.6 L954.3,604.5 L955.5,604.5 L956.6,604.5 L957.7,604.6 L958.9,604.7 L960.0,604.9 L961.2,605.1 L962.4,605.4 L963.6,605.7 L964.7,606.1 L965.9,606.5 L967.1,607.0 L968.3,607.5 L969.5,608.0 L970.6,608.6 L971.8,609.3 L973.0,610.0 L974.1,610.7 L975.3,611.5 L976.4,612.3 L977.5,613.2 L978.6,614.1 L979.7,615.0 L980.8,616.0 L981.8,617.0 L982.9,618.0 L983.9,619.1 L984.9,620.2 L985.9,621.3 L986.8,622.5 L987.7,623.7 L988.6,624.9 L989.5,626.1 L990.3,627.4 L991.1,628.7 L991.9,630.0 L992.7,631.3 L993.4,632.6 L994.1,634.0 L994.7,635.3 L995.3,636.7 L995.9,638.1 L996.4,639.5 L996.9,640.9 L997.4,642.3 L997.8,643.7 L998.2,645.1 L998.6,646.6 L998.9,648.0 L999.1,649.4 L999.4,650.8 L999.6,652.2 L999.7,653.6 L999.8,654.9 L999.9,656.3 L999.9,657.7 L999.9,659.0 L999.8,660.3 L999.7,661.6 L999.6,662.9 L999.4,664.1 L999.2,665.4 L998.9,666.6 L998.6,667.8 L998.3,668.9 L997.9,670.1 L997.5,671.2 L997.0,672.2 L996.5,673.2 L996.0,674.2 L995.4,675.2 L994.8,676.1 L994.1,677.0 L993.5,677.9 L992.8,678.7 L992.0,679.4 L991.2,680.2 L990.4,680.8 L989.6,681.5 L988.7,682.1 L987.8,682.6" fill="none" stroke="#9e9e9e" stroke-width="1.05"/>
<path d="M947.9,605.4 L948.9,605.0 L949.9,604.7 L950.9,604.3 L951.9,604.1 L953.0,603.9 L954.1,603.7 L955.1,603.6 L956.2,603.5 L957.4,603.5 L958.5,603.5 L959.6,603.6 L960.8,603.7 L961.9,603.9 L963.1,604.1 L964.3,604.4 L965.5,604.7 L966.6,605.1 L967.8,605.5 L969.0,606.0 L970.2,606.5 L971.3,607.0 L972.5,607.6 L973.7,608.3 L974.8,609.0 L976.0,609.7 L977.1,610.5 L978.3,611.3 L979.4,612.1 L980.5,613.0 L981.6,614.0 L982.6,614.9 L983.7,615.9 L984.7,617.0 L985.7,618.0 L986.7,619.1 L987.7,620.3 L988.6,621.4 L989.6,622.6 L990.5,623.8 L991.3,625.1 L992.2,626.3 L993.0,627.6 L993.7,628.9 L994.5,630.2 L995.2,631.6 L995.9,632.9 L996.5,634.3 L997.1,635.6 L997.7,637.0 L998.2,638.4 L998.7,639.8 L999.2,641.2 L999.6,642.6 L1000.0,644.1 L1000.4,645.5 L1000.7,646.9 L1000.9,648.3 L1001.2,649.7 L1001.4,651.1 L1001.5,652.5 L1001.6,653.8 L1001.7,655.2 L1001.7,656.5 L1001.7,657.9 L1001.6,659.2 L1001.5,660.5 L1001.4,661.8 L1001.2,663.0 L1001.0,664.2 L1000.7,665.4 L1000.4,666.6 L1000.1,667.8 L999.7,668.9 L999.3,670.0 L998.8,671.1 L998.3,672.1 L997.8,673.1 L997.2,674.0 L996.6,675.0 L996.0,675.8 L995.3,676.7 L994.6,677.5 L993.8,678.3 L993.1,679.0 L992.3,679.7 L991.4,680.3" fill="none" stroke="#9e9e9e" stroke-width="1.05"/>
<path d="M951.9,603.8 L952.9,603.5 L953.9,603.3 L955.0,603.1 L956.0,602.9 L957.1,602.8 L958.2,602.7 L959.3,602.7 L960.4,602.7 L961.6,602.8 L962.7,602.9 L963.9,603.1 L965.0,603.3 L966.2,603.6 L967.3,603.9 L968.5,604.3 L969.7,604.7 L970.9,605.2 L972.0,605.7 L973.2,606.2 L974.4,606.8 L975.5,607.5 L976.7,608.1 L977.8,608.9 L978.9,609.6 L980.1,610.4 L981.2,611.3 L982.3,612.2 L983.3,613.1 L984.4,614.0 L985.5,615.0 L986.5,616.1 L987.5,617.1 L988.5,618.2 L989.4,619.3 L990.4,620.5 L991.3,621.7 L992.2,622.9 L993.0,624.1 L993.9,625.4 L994.7,626.6 L995.4,627.9 L996.2,629.2 L996.9,630.6 L997.5,631.9 L998.2,633.2 L998.8,634.6 L999.4,636.0 L999.9,637.4 L1000.4,638.8 L1000.9,640.2 L1001.3,641.6 L1001.7,643.0 L1002.0,644.4 L1002.3,645.8 L1002.6,647.2 L1002.8,648.5 L1003.0,649.9 L1003.1,651.3 L1003.2,652.7 L1003.3,654.0 L1003.3,655.4 L1003.3,656.7 L1003.3,658.0 L1003.2,659.3 L1003.0,660.5 L1002.8,661.8 L1002.6,663.0 L1002.3,664.2 L1002.0,665.4 L1001.7,666.5 L1001.3,667.6 L1000.9,668.7 L1000.5,669.8 L1000.0,670.8 L999.4,671.8 L998.9,672.7 L998.3,673.6 L997.6,674.5 L997.0,675.4 L996.3,676.2 L995.5,676.9 L994.8,677.6" fill="none" stroke="#9e9e9e" stroke-width="1.05"/>
<path d="M956.0,602.7 L957.0,602.5 L958.1,602.3 L959.2,602.2 L960.2,602.1 L961.3,602.1 L962.4,602.1 L963.6,602.2 L964.7,602.3 L965.8,602.5 L967.0,602.7 L968.1,603.0 L969.3,603.3 L970.4,603.7 L971.6,604.1 L972.7,604.5 L973.9,605.0 L975.0,605.6 L976.2,606.2 L977.3,606.8 L978.5,607.5 L979.6,608.2 L980.7,608.9 L981.8,609.7 L982.9,610.6 L984.0,611.4 L985.1,612.4 L986.1,613.3 L987.1,614.3 L988.2,615.3 L989.2,616.4 L990.1,617.4 L991.1,618.5 L992.0,619.7 L992.9,620.8 L993.8,622.0 L994.6,623.2 L995.4,624.5 L996.2,625.7 L997.0,627.0 L997.7,628.3 L998.4,629.6 L999.1,630.9 L999.7,632.3 L1000.3,633.6 L1000.9,635.0 L1001.4,636.3 L1001.9,637.7 L1002.4,639.1 L1002.8,640.5 L1003.2,641.9 L1003.5,643.2 L1003.8,644.6 L1004.1,646.0 L1004.3,647.4 L1004.5,648.7 L1004.6,650.1 L1004.7,651.5 L1004.8,652.8 L1004.8,654.1 L1004.8,655.4 L1004.7,656.7 L1004.6,658.0 L1004.5,659.2 L1004.3,660.5 L1004.1,661.7 L1003.8,662.8 L1003.5,664.0 L1003.2,665.1 L1002.8,666.2 L1002.4,667.3 L1002.0,668.4 L1001.5,669.4 L1001.0,670.3 L1000.4,671.3 L999.8,672.2 L999.2,673.0 L998.5,673.9 L997.8,674.7" fill="none" stroke="#9e9e9e" stroke-width="1.05"/>
<path d="M960.2,601.9 L961.3,601.8 L962.3,601.7 L963.4,601.7 L964.5,601.7 L965.6,601.8 L966.7,601.9 L967.8,602.1 L968.9,602.3 L970.0,602.6 L971.2,602.9 L972.3,603.2 L973.5,603.6 L974.6,604.1 L975.7,604.6 L976.9,605.1 L978.0,605.7 L979.1,606.3 L980.2,607.0 L981.3,607.7 L982.4,608.4 L983.5,609.2 L984.6,610.0 L985.7,610.9 L986.7,611.8 L987.7,612.7 L988.8,613.7 L989.8,614.7 L990.7,615.7 L991.7,616.8 L992.6,617.9 L993.5,619.0 L994.4,620.1 L995.3,621.3 L996.1,622.5 L996.9,623.7 L997.7,624.9 L998.4,626.2 L999.2,627.4 L999.8,628.7 L1000.5,630.0 L1001.1,631.3 L1001.7,632.7 L1002.3,634.0 L1002.8,635.3 L1003.3,636.7 L1003.7,638.1 L1004.1,639.4 L1004.5,640.8 L1004.8,642.1 L1005.1,643.5 L1005.4,644.8 L1005.6,646.2 L1005.8,647.5 L1005.9,648.9 L1006.0,650.2 L1006.1,651.5 L1006.1,652.8 L1006.1,654.1 L1006.0,655.3 L1005.9,656.6 L1005.8,657.8 L1005.6,659.0 L1005.4,660.2 L1005.1,661.4 L1004.9,662.5 L1004.5,663.6 L1004.2,664.7 L1003.8,665.8 L1003.3,666.8 L1002.8,667.8 L1002.3,668.7 L1001.8,669.7 L1001.2,670.6 L1000.6,671.4" fill="none" stroke="#9e9e9e" stroke-width="1.05"/>
<path d="M965.5,601.5 L966.6,601.5 L967.6,601.6 L968.7,601.7 L969.8,601.9 L970.9,602.1 L972.0,602.4 L973.1,602.7 L974.2,603.0 L975.3,603.4 L976.4,603.8 L977.6,604.3 L978.7,604.9 L979.8,605.4 L980.9,606.0 L982.0,606.7 L983.0,607.4 L984.1,608.1 L985.2,608.9 L986.2,609.7 L987.3,610.5 L988.3,611.4 L989.3,612.3 L990.3,613.2 L991.3,614.2 L992.2,615.2 L993.1,616.2 L994.0,617.3 L994.9,618.4 L995.8,619.5 L996.6,620.6 L997.5,621.8 L998.2,623.0 L999.0,624.2 L999.7,625.4 L1000.4,626.7 L1001.1,627.9 L1001.7,629.2 L1002.3,630.5 L1002.9,631.8 L1003.5,633.1 L1004.0,634.4 L1004.4,635.7 L1004.9,637.0 L1005.3,638.3 L1005.6,639.7 L1006.0,641.0 L1006.3,642.3 L1006.5,643.6 L1006.7,645.0 L1006.9,646.3 L1007.0,647.6 L1007.1,648.9 L1007.2,650.2 L1007.2,651.4 L1007.2,652.7 L1007.1,653.9 L1007.0,655.1 L1006.9,656.3 L1006.7,657.5 L1006.5,658.7 L1006.3,659.8 L1006.0,660.9 L1005.7,662.0 L1005.3,663.1 L1004.9,664.1 L1004.5,665.1 L1004.0,666.1 L1003.5,667.0" fill="none" stroke="#9e9e9e" stroke-width="1.05"/>
<path d="M969.8,601.7 L970.8,601.8 L971.9,601.9 L972.9,602.1 L974.0,602.4 L975.1,602.7 L976.1,603.0 L977.2,603.4 L978.3,603.8 L979.4,604.3 L980.4,604.8 L981.5,605.4 L982.6,605.9 L983.6,606.6 L984.7,607.2 L985.7,607.9 L986.8,608.7 L987.8,609.5 L988.8,610.3 L989.8,611.1 L990.8,612.0 L991.7,612.9 L992.7,613.9 L993.6,614.8 L994.5,615.8 L995.4,616.9 L996.2,617.9 L997.1,619.0 L997.9,620.1 L998.7,621.2 L999.4,622.4 L1000.2,623.6 L1000.9,624.8 L1001.6,626.0 L1002.2,627.2 L1002.8,628.4 L1003.4,629.7 L1004.0,630.9 L1004.5,632.2 L1005.0,633.4 L1005.4,634.7 L1005.9,636.0 L1006.3,637.3 L1006.6,638.6 L1006.9,639.9 L1007.2,641.2 L1007.4,642.4 L1007.7,643.7 L1007.8,645.0 L1008.0,646.2 L1008.1,647.5 L1008.1,648.7 L1008.1,650.0 L1008.1,651.2 L1008.1,652.4 L1008.0,653.6 L1007.8,654.7 L1007.7,655.9 L1007.5,657.0 L1007.2,658.1 L1007.0,659.2 L1006.6,660.2 L1006.3,661.3 L1005.9,662.3 L1005.5,663.2" fill="none" stroke="#9e9e9e" stroke-width="1.05"/>
<path d="M975.0,602.4 L976.0,602.7 L977.0,603.0 L978.1,603.3 L979.1,603.7 L980.1,604.1 L981.2,604.5 L982.2,605.0 L983.2,605.5 L984.3,606.1 L985.3,606.7 L986.3,607.3 L987.3,608.0 L988.3,608.7 L989.3,609.5 L990.2,610.3 L991.2,611.1 L992.1,611.9 L993.0,612.8 L994.0,613.7 L994.8,614.6 L995.7,615.6 L996.6,616.6 L997.4,617.6 L998.2,618.7 L999.0,619.7 L999.7,620.8 L1000.5,621.9 L1001.2,623.0 L1001.9,624.2 L1002.5,625.3 L1003.1,626.5 L1003.7,627.7 L1004.3,628.9 L1004.8,630.1 L1005.3,631.3 L1005.8,632.5 L1006.3,633.8 L1006.7,635.0 L1007.0,636.2 L1007.4,637.5 L1007.7,638.7 L1007.9,640.0 L1008.2,641.2 L1008.4,642.4 L1008.5,643.6 L1008.7,644.9 L1008.8,646.1 L1008.8,647.3 L1008.8,648.4 L1008.8,649.6 L1008.8,650.8 L1008.7,651.9 L1008.6,653.0 L1008.4,654.1 L1008.2,655.2 L1008.0,656.3 L1007.7,657.3 L1007.4,658.3" fill="none" stroke="#9e9e9e" stroke-width="1.05"/>
<path d="M981.0,604.2 L982.0,604.6 L983.0,605.0 L983.9,605.4 L984.9,605.9 L985.9,606.5 L986.9,607.1 L987.8,607.7 L988.8,608.3 L989.7,609.0 L990.7,609.7 L991.6,610.5 L992.5,611.2 L993.4,612.0 L994.3,612.9 L995.1,613.7 L996.0,614.6 L996.8,615.6 L997.6,616.5 L998.4,617.5 L999.2,618.5 L999.9,619.5 L1000.6,620.5 L1001.3,621.6 L1002.0,622.6 L1002.7,623.7 L1003.3,624.8 L1003.9,625.9 L1004.4,627.1 L1005.0,628.2 L1005.5,629.4 L1006.0,630.5 L1006.4,631.7 L1006.8,632.9 L1007.2,634.0 L1007.6,635.2 L1007.9,636.4 L1008.2,637.6 L1008.5,638.7 L1008.7,639.9 L1008.9,641.1 L1009.0,642.3 L1009.2,643.4 L1009.2,644.6 L1009.3,645.7 L1009.3,646.8 L1009.3,647.9 L1009.2,649.0 L1009.2,650.1 L1009.0,651.2 L1008.9,652.2" fill="none" stroke="#9e9e9e" stroke-width="1.05"/>
<path d="M987.5,607.2 L988.4,607.7 L989.3,608.3 L990.2,608.9 L991.1,609.5 L992.0,610.2 L992.8,610.9 L993.7,611.6 L994.5,612.4 L995.4,613.2 L996.2,614.0 L997.0,614.8 L997.7,615.7 L998.5,616.6 L999.2,617.5 L1000.0,618.4 L1000.7,619.4 L1001.3,620.4 L1002.0,621.3 L1002.6,622.4 L1003.2,623.4 L1003.8,624.4 L1004.4,625.5 L1004.9,626.5 L1005.4,627.6 L1005.9,628.7 L1006.4,629.8 L1006.8,630.9 L1007.2,632.0 L1007.5,633.1 L1007.9,634.2 L1008.2,635.3 L1008.5,636.4 L1008.7,637.5 L1008.9,638.6 L1009.1,639.7 L1009.2,640.8 L1009.3,641.9 L1009.4,643.0 L1009.5,644.0 L1009.5,645.1" fill="none" stroke="#9e9e9e" stroke-width="1.05"/>
<path d="M995.5,613.0 L996.3,613.8 L997.0,614.5 L997.8,615.3 L998.5,616.1 L999.2,616.9 L999.9,617.8 L1000.5,618.6 L1001.2,619.5 L1001.8,620.4 L1002.4,621.3 L1003.0,622.2 L1003.6,623.2 L1004.1,624.1 L1004.6,625.1 L1005.1,626.1 L1005.6,627.1 L1006.0,628.1 L1006.5,629.1 L1006.8,630.1 L1007.2,631.1 L1007.5,632.1 L1007.9,633.2 L1008.1,634.2 L1008.4,635.2" fill="none" stroke="#9e9e9e" stroke-width="1.05"/>
<circle cx="966.0" cy="645.0" r="43.5" fill="url(#ballsh)"/>
<path d="M957,681 Q990,671 1012,648 L1012,657 Q992,678 960,688 Z" fill="#ececec"/>
</g>
<ellipse cx="944.5" cy="657.5" rx="21.0" ry="25.2" fill="url(#stripes)" transform="rotate(-8 944.5 657.5)"/>
<ellipse cx="953.0" cy="660.5" rx="13.0" ry="21.5" fill="url(#holeb)" transform="rotate(-14 953.0 660.5)"/>
</svg>
</body></html>
